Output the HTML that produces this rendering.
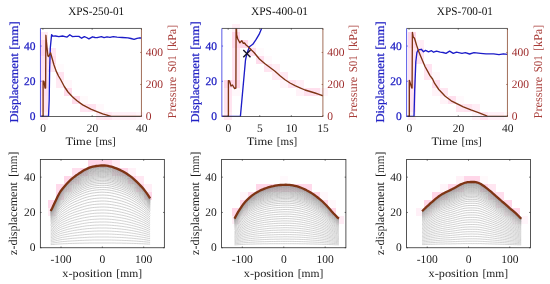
<!DOCTYPE html>
<html><head><meta charset="utf-8"><style>
html,body{margin:0;padding:0;background:#fff;}
svg{display:block;filter:blur(0.35px);}
text{font-family:"Liberation Serif", serif;text-rendering:geometricPrecision;}
</style></head><body>
<svg xmlns="http://www.w3.org/2000/svg" width="550" height="284" viewBox="0 0 550 284">
<rect width="550" height="284" fill="#fff"/>
<rect x="232" y="24" width="8" height="8" fill="rgb(255,239,246)"/>
<rect x="40" y="32" width="8" height="8" fill="rgb(255,236,244)"/>
<rect x="232" y="32" width="8" height="8" fill="rgb(255,215,233)"/>
<rect x="408" y="32" width="8" height="8" fill="rgb(255,215,233)"/>
<rect x="40" y="40" width="8" height="8" fill="rgb(255,215,233)"/>
<rect x="232" y="40" width="8" height="8" fill="rgb(255,218,234)"/>
<rect x="240" y="40" width="8" height="8" fill="rgb(255,215,233)"/>
<rect x="248" y="40" width="8" height="8" fill="rgb(255,248,251)"/>
<rect x="408" y="40" width="8" height="8" fill="rgb(255,217,234)"/>
<rect x="416" y="40" width="8" height="8" fill="rgb(255,238,246)"/>
<rect x="40" y="48" width="8" height="8" fill="rgb(255,215,233)"/>
<rect x="48" y="48" width="8" height="8" fill="rgb(255,230,242)"/>
<rect x="232" y="48" width="8" height="8" fill="rgb(255,228,240)"/>
<rect x="248" y="48" width="8" height="8" fill="rgb(255,222,237)"/>
<rect x="256" y="48" width="8" height="8" fill="rgb(255,250,252)"/>
<rect x="408" y="48" width="8" height="8" fill="rgb(255,228,240)"/>
<rect x="416" y="48" width="8" height="8" fill="rgb(255,227,240)"/>
<rect x="40" y="56" width="8" height="8" fill="rgb(255,227,240)"/>
<rect x="48" y="56" width="8" height="8" fill="rgb(255,223,237)"/>
<rect x="232" y="56" width="8" height="8" fill="rgb(255,228,240)"/>
<rect x="256" y="56" width="8" height="8" fill="rgb(255,221,237)"/>
<rect x="264" y="56" width="8" height="8" fill="rgb(255,249,252)"/>
<rect x="408" y="56" width="8" height="8" fill="rgb(255,228,240)"/>
<rect x="416" y="56" width="8" height="8" fill="rgb(255,228,240)"/>
<rect x="40" y="64" width="8" height="8" fill="rgb(255,228,240)"/>
<rect x="48" y="64" width="8" height="8" fill="rgb(255,232,242)"/>
<rect x="56" y="64" width="8" height="8" fill="rgb(255,250,252)"/>
<rect x="232" y="64" width="8" height="8" fill="rgb(255,228,240)"/>
<rect x="264" y="64" width="8" height="8" fill="rgb(255,228,240)"/>
<rect x="272" y="64" width="8" height="8" fill="rgb(255,239,246)"/>
<rect x="408" y="64" width="8" height="8" fill="rgb(255,228,240)"/>
<rect x="424" y="64" width="8" height="8" fill="rgb(255,227,240)"/>
<rect x="40" y="72" width="8" height="8" fill="rgb(255,229,240)"/>
<rect x="56" y="72" width="8" height="8" fill="rgb(255,226,239)"/>
<rect x="232" y="72" width="8" height="8" fill="rgb(255,228,240)"/>
<rect x="272" y="72" width="8" height="8" fill="rgb(255,236,245)"/>
<rect x="280" y="72" width="8" height="8" fill="rgb(255,233,243)"/>
<rect x="408" y="72" width="8" height="8" fill="rgb(255,228,240)"/>
<rect x="424" y="72" width="8" height="8" fill="rgb(255,230,241)"/>
<rect x="432" y="72" width="8" height="8" fill="rgb(255,248,251)"/>
<rect x="40" y="80" width="8" height="8" fill="rgb(255,215,233)"/>
<rect x="56" y="80" width="8" height="8" fill="rgb(255,234,243)"/>
<rect x="64" y="80" width="8" height="8" fill="rgb(255,246,250)"/>
<rect x="224" y="80" width="8" height="8" fill="rgb(255,215,233)"/>
<rect x="232" y="80" width="8" height="8" fill="rgb(255,215,233)"/>
<rect x="280" y="80" width="8" height="8" fill="rgb(255,245,250)"/>
<rect x="288" y="80" width="8" height="8" fill="rgb(255,226,239)"/>
<rect x="296" y="80" width="8" height="8" fill="rgb(255,239,246)"/>
<rect x="408" y="80" width="8" height="8" fill="rgb(255,215,233)"/>
<rect x="432" y="80" width="8" height="8" fill="rgb(255,223,238)"/>
<rect x="40" y="88" width="8" height="8" fill="rgb(255,225,239)"/>
<rect x="64" y="88" width="8" height="8" fill="rgb(255,219,235)"/>
<rect x="224" y="88" width="8" height="8" fill="rgb(255,228,240)"/>
<rect x="232" y="88" width="8" height="8" fill="rgb(255,248,251)"/>
<rect x="296" y="88" width="8" height="8" fill="rgb(255,242,248)"/>
<rect x="304" y="88" width="8" height="8" fill="rgb(255,224,238)"/>
<rect x="312" y="88" width="8" height="8" fill="rgb(255,224,238)"/>
<rect x="320" y="88" width="8" height="8" fill="rgb(255,245,250)"/>
<rect x="408" y="88" width="8" height="8" fill="rgb(255,226,239)"/>
<rect x="432" y="88" width="8" height="8" fill="rgb(255,243,248)"/>
<rect x="440" y="88" width="8" height="8" fill="rgb(255,230,241)"/>
<rect x="40" y="96" width="8" height="8" fill="rgb(255,228,240)"/>
<rect x="72" y="96" width="8" height="8" fill="rgb(255,221,236)"/>
<rect x="80" y="96" width="8" height="8" fill="rgb(255,249,251)"/>
<rect x="224" y="96" width="8" height="8" fill="rgb(255,228,240)"/>
<rect x="408" y="96" width="8" height="8" fill="rgb(255,228,240)"/>
<rect x="440" y="96" width="8" height="8" fill="rgb(255,243,248)"/>
<rect x="448" y="96" width="8" height="8" fill="rgb(255,224,238)"/>
<rect x="456" y="96" width="8" height="8" fill="rgb(255,249,252)"/>
<rect x="40" y="104" width="8" height="8" fill="rgb(255,228,240)"/>
<rect x="80" y="104" width="8" height="8" fill="rgb(255,229,241)"/>
<rect x="88" y="104" width="8" height="8" fill="rgb(255,226,239)"/>
<rect x="96" y="104" width="8" height="8" fill="rgb(255,248,251)"/>
<rect x="224" y="104" width="8" height="8" fill="rgb(255,228,240)"/>
<rect x="408" y="104" width="8" height="8" fill="rgb(255,228,240)"/>
<rect x="456" y="104" width="8" height="8" fill="rgb(255,230,241)"/>
<rect x="464" y="104" width="8" height="8" fill="rgb(255,227,239)"/>
<rect x="472" y="104" width="8" height="8" fill="rgb(255,238,246)"/>
<rect x="40" y="112" width="8" height="8" fill="rgb(255,237,245)"/>
<rect x="96" y="112" width="8" height="8" fill="rgb(255,234,243)"/>
<rect x="104" y="112" width="8" height="8" fill="rgb(255,231,242)"/>
<rect x="112" y="112" width="8" height="8" fill="rgb(255,240,247)"/>
<rect x="120" y="112" width="8" height="8" fill="rgb(255,240,247)"/>
<rect x="128" y="112" width="8" height="8" fill="rgb(255,240,247)"/>
<rect x="136" y="112" width="8" height="8" fill="rgb(255,245,250)"/>
<rect x="224" y="112" width="8" height="8" fill="rgb(255,233,243)"/>
<rect x="408" y="112" width="8" height="8" fill="rgb(255,239,246)"/>
<rect x="472" y="112" width="8" height="8" fill="rgb(255,244,249)"/>
<rect x="480" y="112" width="8" height="8" fill="rgb(255,228,240)"/>
<rect x="488" y="112" width="8" height="8" fill="rgb(255,240,247)"/>
<rect x="496" y="112" width="8" height="8" fill="rgb(255,240,247)"/>
<rect x="504" y="112" width="8" height="8" fill="rgb(255,249,252)"/>
<rect x="88" y="160" width="8" height="8" fill="rgb(255,215,233)"/>
<rect x="96" y="160" width="8" height="8" fill="rgb(255,215,233)"/>
<rect x="104" y="160" width="8" height="8" fill="rgb(255,215,233)"/>
<rect x="112" y="160" width="8" height="8" fill="rgb(255,235,244)"/>
<rect x="72" y="168" width="8" height="8" fill="rgb(255,223,238)"/>
<rect x="80" y="168" width="8" height="8" fill="rgb(255,215,233)"/>
<rect x="88" y="168" width="8" height="8" fill="rgb(255,247,251)"/>
<rect x="112" y="168" width="8" height="8" fill="rgb(255,224,238)"/>
<rect x="120" y="168" width="8" height="8" fill="rgb(255,215,233)"/>
<rect x="128" y="168" width="8" height="8" fill="rgb(255,241,247)"/>
<rect x="64" y="176" width="8" height="8" fill="rgb(255,215,233)"/>
<rect x="72" y="176" width="8" height="8" fill="rgb(255,231,242)"/>
<rect x="128" y="176" width="8" height="8" fill="rgb(255,215,233)"/>
<rect x="136" y="176" width="8" height="8" fill="rgb(255,231,242)"/>
<rect x="280" y="176" width="8" height="8" fill="rgb(255,249,252)"/>
<rect x="456" y="176" width="8" height="8" fill="rgb(255,241,247)"/>
<rect x="464" y="176" width="8" height="8" fill="rgb(255,215,233)"/>
<rect x="472" y="176" width="8" height="8" fill="rgb(255,215,233)"/>
<rect x="480" y="176" width="8" height="8" fill="rgb(255,249,251)"/>
<rect x="56" y="184" width="8" height="8" fill="rgb(255,218,235)"/>
<rect x="64" y="184" width="8" height="8" fill="rgb(255,233,243)"/>
<rect x="136" y="184" width="8" height="8" fill="rgb(255,215,233)"/>
<rect x="144" y="184" width="8" height="8" fill="rgb(255,238,246)"/>
<rect x="256" y="184" width="8" height="8" fill="rgb(255,215,233)"/>
<rect x="264" y="184" width="8" height="8" fill="rgb(255,215,233)"/>
<rect x="272" y="184" width="8" height="8" fill="rgb(255,215,233)"/>
<rect x="280" y="184" width="8" height="8" fill="rgb(255,215,233)"/>
<rect x="288" y="184" width="8" height="8" fill="rgb(255,215,233)"/>
<rect x="296" y="184" width="8" height="8" fill="rgb(255,215,233)"/>
<rect x="304" y="184" width="8" height="8" fill="rgb(255,218,235)"/>
<rect x="440" y="184" width="8" height="8" fill="rgb(255,244,249)"/>
<rect x="448" y="184" width="8" height="8" fill="rgb(255,215,233)"/>
<rect x="456" y="184" width="8" height="8" fill="rgb(255,218,235)"/>
<rect x="480" y="184" width="8" height="8" fill="rgb(255,215,233)"/>
<rect x="488" y="184" width="8" height="8" fill="rgb(255,230,241)"/>
<rect x="56" y="192" width="8" height="8" fill="rgb(255,215,233)"/>
<rect x="144" y="192" width="8" height="8" fill="rgb(255,215,233)"/>
<rect x="240" y="192" width="8" height="8" fill="rgb(255,246,250)"/>
<rect x="248" y="192" width="8" height="8" fill="rgb(255,215,233)"/>
<rect x="256" y="192" width="8" height="8" fill="rgb(255,245,249)"/>
<rect x="304" y="192" width="8" height="8" fill="rgb(255,240,247)"/>
<rect x="312" y="192" width="8" height="8" fill="rgb(255,215,233)"/>
<rect x="320" y="192" width="8" height="8" fill="rgb(255,248,251)"/>
<rect x="432" y="192" width="8" height="8" fill="rgb(255,215,233)"/>
<rect x="440" y="192" width="8" height="8" fill="rgb(255,215,233)"/>
<rect x="488" y="192" width="8" height="8" fill="rgb(255,220,236)"/>
<rect x="496" y="192" width="8" height="8" fill="rgb(255,222,237)"/>
<rect x="48" y="200" width="8" height="8" fill="rgb(255,215,233)"/>
<rect x="240" y="200" width="8" height="8" fill="rgb(255,215,233)"/>
<rect x="320" y="200" width="8" height="8" fill="rgb(255,215,233)"/>
<rect x="328" y="200" width="8" height="8" fill="rgb(255,248,251)"/>
<rect x="424" y="200" width="8" height="8" fill="rgb(255,215,233)"/>
<rect x="432" y="200" width="8" height="8" fill="rgb(255,238,245)"/>
<rect x="496" y="200" width="8" height="8" fill="rgb(255,228,240)"/>
<rect x="504" y="200" width="8" height="8" fill="rgb(255,215,233)"/>
<rect x="48" y="208" width="8" height="8" fill="rgb(255,236,244)"/>
<rect x="232" y="208" width="8" height="8" fill="rgb(255,215,233)"/>
<rect x="240" y="208" width="8" height="8" fill="rgb(255,247,251)"/>
<rect x="328" y="208" width="8" height="8" fill="rgb(255,215,233)"/>
<rect x="416" y="208" width="8" height="8" fill="rgb(255,240,247)"/>
<rect x="424" y="208" width="8" height="8" fill="rgb(255,244,249)"/>
<rect x="504" y="208" width="8" height="8" fill="rgb(255,237,245)"/>
<rect x="512" y="208" width="8" height="8" fill="rgb(255,215,233)"/>
<rect x="232" y="216" width="8" height="8" fill="rgb(255,238,246)"/>
<rect x="336" y="216" width="8" height="8" fill="rgb(255,236,245)"/>
<rect x="512" y="216" width="8" height="8" fill="rgb(255,243,249)"/>
<rect x="520" y="216" width="8" height="8" fill="rgb(255,245,250)"/>
<defs>
<clipPath id="ct0"><rect x="40.45" y="28.45" width="100.99999999999999" height="88.05"/></clipPath>
<clipPath id="ct1"><rect x="221.85" y="28.45" width="101.04999999999998" height="88.05"/></clipPath>
<clipPath id="ct2"><rect x="406.6" y="28.45" width="100.84999999999997" height="88.05"/></clipPath>
</defs>
<g clip-path="url(#ct0)" fill="none" stroke-linejoin="round">
<path d="M40.5,116.5 L48.5,116.5 L49.2,100.0 L49.6,70.0 L50.3,48.0 L51.6,34.6 L53.0,36.2 L55.5,36.0 L58.9,36.6 L62.5,36.0 L65.0,36.6 L67.1,37.1 L69.8,34.8 L72.5,36.6 L75.5,36.3 L78.9,36.4 L81.6,38.2 L84.4,36.6 L86.5,37.5 L88.9,38.9 L92.5,36.8 L95.0,37.5 L97.1,37.7 L101.4,36.6 L104.0,37.6 L107.0,36.8 L110.0,37.3 L113.2,36.6 L117.0,37.2 L122.3,37.5 L128.0,37.8 L131.0,38.5 L134.1,39.4 L137.0,38.3 L139.5,37.8 L141.4,38.0" stroke="#1c1cc8" stroke-width="1.35"/>
<path d="M40.5,116.5 L43.1,116.5 L43.1,81.0 L44.0,81.5 L45.0,88.0 L45.6,88.0 L45.9,35.3 L46.4,42.0 L47.9,56.0 L48.6,56.5 L50.6,52.9 L52.0,58.0 L54.0,65.0 L56.3,71.4 L58.5,76.0 L60.6,79.5 L64.3,86.5 L68.0,92.0 L72.4,96.7 L77.0,100.7 L82.7,104.9 L90.8,109.2 L96.3,111.3 L102.7,113.8 L107.0,115.2 L111.1,116.5 L141.4,116.5" stroke="#7e3414" stroke-width="1.35"/>
</g>
<path d="M40.45,28.45 H141.45 M40.45,116.5 H141.45" stroke="#2b2b2b" stroke-width="0.75" fill="none"/>
<path d="M40.45,28.45 V116.5" stroke="#3030e0" stroke-width="0.8" fill="none"/>
<path d="M141.45,28.45 V116.5" stroke="#8a4a30" stroke-width="0.8" fill="none"/>
<path d="M42.91,116.5 V115.3 M42.91,28.45 V29.65" stroke="#2b2b2b" stroke-width="0.75"/>
<text x="43.11" y="132.20" font-size="11.5" fill="#1a1a1a" text-anchor="middle" >0</text>
<path d="M92.18,116.5 V115.3 M92.18,28.45 V29.65" stroke="#2b2b2b" stroke-width="0.75"/>
<text x="92.38" y="132.20" font-size="11.5" fill="#1a1a1a" text-anchor="middle" >20</text>
<path d="M141.45,116.5 V115.3 M141.45,28.45 V29.65" stroke="#2b2b2b" stroke-width="0.75"/>
<text x="141.65" y="132.20" font-size="11.5" fill="#1a1a1a" text-anchor="middle" >40</text>
<path d="M40.45,116.50 H41.650000000000006" stroke="#3030e0" stroke-width="0.75"/>
<text x="35.55" y="120.20" font-size="11.5" fill="#2222c4" text-anchor="end" stroke="#2222c4" stroke-width="0.25">0</text>
<path d="M40.45,81.28 H41.650000000000006" stroke="#3030e0" stroke-width="0.75"/>
<text x="35.55" y="84.98" font-size="11.5" fill="#2222c4" text-anchor="end" stroke="#2222c4" stroke-width="0.25">20</text>
<path d="M40.45,46.06 H41.650000000000006" stroke="#3030e0" stroke-width="0.75"/>
<text x="35.55" y="49.76" font-size="11.5" fill="#2222c4" text-anchor="end" stroke="#2222c4" stroke-width="0.25">40</text>
<path d="M141.45,116.50 H140.25" stroke="#8a4a30" stroke-width="0.75"/>
<text x="145.85" y="120.20" font-size="11.5" fill="#9e2c2c" text-anchor="start" >0</text>
<path d="M141.45,84.48 H140.25" stroke="#8a4a30" stroke-width="0.75"/>
<text x="145.85" y="88.18" font-size="11.5" fill="#9e2c2c" text-anchor="start" >200</text>
<path d="M141.45,52.46 H140.25" stroke="#8a4a30" stroke-width="0.75"/>
<text x="145.85" y="56.16" font-size="11.5" fill="#9e2c2c" text-anchor="start" >400</text>
<text x="65.42" y="145.10" font-size="11.3" fill="#1a1a1a" textLength="26.07" lengthAdjust="spacingAndGlyphs">Time</text>
<text x="95.44" y="145.10" font-size="11.3" fill="#1a1a1a" textLength="20.32" lengthAdjust="spacingAndGlyphs">[ms]</text>
<text transform="translate(17.65,122.59) rotate(-90)" x="0" y="0" font-size="12" fill="#2222c4" textLength="69.30" lengthAdjust="spacingAndGlyphs" stroke="#2222c4" stroke-width="0.25">Displacement</text>
<text transform="translate(17.65,49.73) rotate(-90)" x="0" y="0" font-size="12" fill="#2222c4" textLength="28.40" lengthAdjust="spacingAndGlyphs" stroke="#2222c4" stroke-width="0.25">[mm]</text>
<text transform="translate(175.75,118.38) rotate(-90)" x="0" y="0" font-size="12" fill="#a83c38" textLength="41.60" lengthAdjust="spacingAndGlyphs" >Pressure</text>
<text transform="translate(175.75,72.28) rotate(-90)" x="0" y="0" font-size="12" fill="#a83c38" textLength="17.01" lengthAdjust="spacingAndGlyphs" >S01</text>
<text transform="translate(175.75,50.88) rotate(-90)" x="0" y="0" font-size="12" fill="#a83c38" textLength="26.05" lengthAdjust="spacingAndGlyphs" >[kPa]</text>
<text x="68.21" y="15.00" font-size="11.6" fill="#111111" textLength="55.95" lengthAdjust="spacingAndGlyphs">XPS-250-01</text>
<g clip-path="url(#ct1)" fill="none" stroke-linejoin="round">
<path d="M221.8,116.5 L240.4,116.5 L245.5,60.0 L246.8,54.0 L249.4,46.8 L252.8,44.3 L256.0,39.7 L259.1,34.4 L261.8,28.1 L262.5,26.0" stroke="#1c1cc8" stroke-width="1.35"/>
<path d="M221.8,116.5 L228.4,116.5 L228.4,80.6 L229.5,81.0 L231.0,86.0 L232.5,85.0 L234.5,88.5 L235.9,88.0 L236.1,20.0 L236.4,26.0 L236.7,35.0 L237.8,39.0 L239.8,42.8 L241.8,40.7 L243.3,43.3 L244.5,43.0 L246.3,45.2 L248.0,46.6 L251.7,50.3 L254.0,52.5 L256.5,55.5 L259.4,59.0 L265.0,63.8 L270.0,67.5 L275.0,71.3 L280.0,75.8 L285.0,79.8 L290.0,83.0 L295.0,85.6 L300.0,87.8 L305.0,90.0 L310.0,91.5 L315.0,93.0 L319.0,94.4 L322.9,95.8" stroke="#7e3414" stroke-width="1.35"/>
</g>
<path d="M243.3,50.0 L250.5,57.2 M243.3,57.2 L250.5,50.0" stroke="#15152a" stroke-width="1.4" fill="none"/>
<path d="M221.85,28.45 H322.9 M221.85,116.5 H322.9" stroke="#2b2b2b" stroke-width="0.75" fill="none"/>
<path d="M221.85,28.45 V116.5" stroke="#3030e0" stroke-width="0.8" fill="none"/>
<path d="M322.9,28.45 V116.5" stroke="#8a4a30" stroke-width="0.8" fill="none"/>
<path d="M228.17,116.5 V115.3 M228.17,28.45 V29.65" stroke="#2b2b2b" stroke-width="0.75"/>
<text x="228.37" y="132.20" font-size="11.5" fill="#1a1a1a" text-anchor="middle" >0</text>
<path d="M259.74,116.5 V115.3 M259.74,28.45 V29.65" stroke="#2b2b2b" stroke-width="0.75"/>
<text x="259.94" y="132.20" font-size="11.5" fill="#1a1a1a" text-anchor="middle" >5</text>
<path d="M291.32,116.5 V115.3 M291.32,28.45 V29.65" stroke="#2b2b2b" stroke-width="0.75"/>
<text x="291.52" y="132.20" font-size="11.5" fill="#1a1a1a" text-anchor="middle" >10</text>
<path d="M322.90,116.5 V115.3 M322.90,28.45 V29.65" stroke="#2b2b2b" stroke-width="0.75"/>
<text x="323.10" y="132.20" font-size="11.5" fill="#1a1a1a" text-anchor="middle" >15</text>
<path d="M221.85,116.50 H223.04999999999998" stroke="#3030e0" stroke-width="0.75"/>
<text x="216.95" y="120.20" font-size="11.5" fill="#2222c4" text-anchor="end" stroke="#2222c4" stroke-width="0.25">0</text>
<path d="M221.85,81.28 H223.04999999999998" stroke="#3030e0" stroke-width="0.75"/>
<text x="216.95" y="84.98" font-size="11.5" fill="#2222c4" text-anchor="end" stroke="#2222c4" stroke-width="0.25">20</text>
<path d="M221.85,46.06 H223.04999999999998" stroke="#3030e0" stroke-width="0.75"/>
<text x="216.95" y="49.76" font-size="11.5" fill="#2222c4" text-anchor="end" stroke="#2222c4" stroke-width="0.25">40</text>
<path d="M322.9,116.50 H321.7" stroke="#8a4a30" stroke-width="0.75"/>
<text x="327.30" y="120.20" font-size="11.5" fill="#9e2c2c" text-anchor="start" >0</text>
<path d="M322.9,84.48 H321.7" stroke="#8a4a30" stroke-width="0.75"/>
<text x="327.30" y="88.18" font-size="11.5" fill="#9e2c2c" text-anchor="start" >200</text>
<path d="M322.9,52.46 H321.7" stroke="#8a4a30" stroke-width="0.75"/>
<text x="327.30" y="56.16" font-size="11.5" fill="#9e2c2c" text-anchor="start" >400</text>
<text x="246.85" y="145.10" font-size="11.3" fill="#1a1a1a" textLength="26.07" lengthAdjust="spacingAndGlyphs">Time</text>
<text x="276.86" y="145.10" font-size="11.3" fill="#1a1a1a" textLength="20.32" lengthAdjust="spacingAndGlyphs">[ms]</text>
<text transform="translate(199.05,122.59) rotate(-90)" x="0" y="0" font-size="12" fill="#2222c4" textLength="69.30" lengthAdjust="spacingAndGlyphs" stroke="#2222c4" stroke-width="0.25">Displacement</text>
<text transform="translate(199.05,49.73) rotate(-90)" x="0" y="0" font-size="12" fill="#2222c4" textLength="28.40" lengthAdjust="spacingAndGlyphs" stroke="#2222c4" stroke-width="0.25">[mm]</text>
<text transform="translate(357.20,118.38) rotate(-90)" x="0" y="0" font-size="12" fill="#a83c38" textLength="41.60" lengthAdjust="spacingAndGlyphs" >Pressure</text>
<text transform="translate(357.20,72.28) rotate(-90)" x="0" y="0" font-size="12" fill="#a83c38" textLength="17.01" lengthAdjust="spacingAndGlyphs" >S01</text>
<text transform="translate(357.20,50.88) rotate(-90)" x="0" y="0" font-size="12" fill="#a83c38" textLength="26.05" lengthAdjust="spacingAndGlyphs" >[kPa]</text>
<text x="251.00" y="15.10" font-size="11.6" fill="#111111" textLength="57.06" lengthAdjust="spacingAndGlyphs">XPS-400-01</text>
<g clip-path="url(#ct2)" fill="none" stroke-linejoin="round">
<path d="M406.6,116.5 L414.0,116.5 L414.7,90.0 L415.3,75.0 L415.8,62.0 L416.9,52.5 L418.0,50.4 L419.5,49.6 L421.3,49.3 L423.5,51.8 L425.6,50.4 L428.5,51.8 L431.5,50.7 L433.6,52.2 L436.5,51.1 L440.2,52.2 L443.1,52.5 L446.0,53.3 L449.6,51.1 L453.3,53.3 L456.5,52.2 L462.0,53.3 L465.3,52.7 L469.6,54.0 L474.0,52.7 L480.5,53.3 L486.0,53.8 L493.6,53.8 L499.0,54.6 L503.4,53.8 L507.4,54.4" stroke="#1c1cc8" stroke-width="1.35"/>
<path d="M406.6,116.5 L409.3,116.5 L409.3,80.3 L411.8,88.0 L412.1,88.0 L412.4,32.4 L413.2,37.0 L414.5,38.2 L416.6,45.3 L419.1,52.6 L422.8,61.3 L425.0,66.5 L427.7,71.3 L430.0,75.6 L432.6,79.0 L434.5,83.2 L438.8,89.5 L445.2,96.2 L451.2,100.8 L457.3,103.8 L463.3,106.8 L470.9,109.8 L478.5,112.6 L486.1,115.6 L487.6,116.5 L507.4,116.5" stroke="#7e3414" stroke-width="1.35"/>
</g>
<path d="M406.6,28.45 H507.45 M406.6,116.5 H507.45" stroke="#2b2b2b" stroke-width="0.75" fill="none"/>
<path d="M406.6,28.45 V116.5" stroke="#3030e0" stroke-width="0.8" fill="none"/>
<path d="M507.45,28.45 V116.5" stroke="#8a4a30" stroke-width="0.8" fill="none"/>
<path d="M409.06,116.5 V115.3 M409.06,28.45 V29.65" stroke="#2b2b2b" stroke-width="0.75"/>
<text x="409.26" y="132.20" font-size="11.5" fill="#1a1a1a" text-anchor="middle" >0</text>
<path d="M458.25,116.5 V115.3 M458.25,28.45 V29.65" stroke="#2b2b2b" stroke-width="0.75"/>
<text x="458.45" y="132.20" font-size="11.5" fill="#1a1a1a" text-anchor="middle" >20</text>
<path d="M507.45,116.5 V115.3 M507.45,28.45 V29.65" stroke="#2b2b2b" stroke-width="0.75"/>
<text x="507.65" y="132.20" font-size="11.5" fill="#1a1a1a" text-anchor="middle" >40</text>
<path d="M406.6,116.50 H407.8" stroke="#3030e0" stroke-width="0.75"/>
<text x="401.70" y="120.20" font-size="11.5" fill="#2222c4" text-anchor="end" stroke="#2222c4" stroke-width="0.25">0</text>
<path d="M406.6,81.28 H407.8" stroke="#3030e0" stroke-width="0.75"/>
<text x="401.70" y="84.98" font-size="11.5" fill="#2222c4" text-anchor="end" stroke="#2222c4" stroke-width="0.25">20</text>
<path d="M406.6,46.06 H407.8" stroke="#3030e0" stroke-width="0.75"/>
<text x="401.70" y="49.76" font-size="11.5" fill="#2222c4" text-anchor="end" stroke="#2222c4" stroke-width="0.25">40</text>
<path d="M507.45,116.50 H506.25" stroke="#8a4a30" stroke-width="0.75"/>
<text x="511.85" y="120.20" font-size="11.5" fill="#9e2c2c" text-anchor="start" >0</text>
<path d="M507.45,84.48 H506.25" stroke="#8a4a30" stroke-width="0.75"/>
<text x="511.85" y="88.18" font-size="11.5" fill="#9e2c2c" text-anchor="start" >200</text>
<path d="M507.45,52.46 H506.25" stroke="#8a4a30" stroke-width="0.75"/>
<text x="511.85" y="56.16" font-size="11.5" fill="#9e2c2c" text-anchor="start" >400</text>
<text x="431.50" y="145.10" font-size="11.3" fill="#1a1a1a" textLength="26.07" lengthAdjust="spacingAndGlyphs">Time</text>
<text x="461.51" y="145.10" font-size="11.3" fill="#1a1a1a" textLength="20.32" lengthAdjust="spacingAndGlyphs">[ms]</text>
<text transform="translate(383.80,122.59) rotate(-90)" x="0" y="0" font-size="12" fill="#2222c4" textLength="69.30" lengthAdjust="spacingAndGlyphs" stroke="#2222c4" stroke-width="0.25">Displacement</text>
<text transform="translate(383.80,49.73) rotate(-90)" x="0" y="0" font-size="12" fill="#2222c4" textLength="28.40" lengthAdjust="spacingAndGlyphs" stroke="#2222c4" stroke-width="0.25">[mm]</text>
<text transform="translate(541.75,118.38) rotate(-90)" x="0" y="0" font-size="12" fill="#a83c38" textLength="41.60" lengthAdjust="spacingAndGlyphs" >Pressure</text>
<text transform="translate(541.75,72.28) rotate(-90)" x="0" y="0" font-size="12" fill="#a83c38" textLength="17.01" lengthAdjust="spacingAndGlyphs" >S01</text>
<text transform="translate(541.75,50.88) rotate(-90)" x="0" y="0" font-size="12" fill="#a83c38" textLength="26.05" lengthAdjust="spacingAndGlyphs" >[kPa]</text>
<text x="436.81" y="15.20" font-size="11.6" fill="#111111" textLength="56.15" lengthAdjust="spacingAndGlyphs">XPS-700-01</text>
<g fill="none" stroke-width="0.7">
<path d="M50.7,244.6 L52.4,244.5 L54.1,244.4 L55.8,244.2 L57.4,244.1 L59.1,244.0 L60.8,243.9 L62.5,243.8 L64.2,243.7 L65.9,243.7 L67.5,243.6 L69.2,243.5 L70.9,243.5 L72.6,243.4 L74.3,243.4 L76.0,243.3 L77.7,243.3 L79.3,243.2 L81.0,243.2 L82.7,243.2 L84.4,243.1 L86.1,243.1 L87.8,243.1 L89.4,243.0 L91.1,243.0 L92.8,243.0 L94.5,243.0 L96.2,243.0 L97.9,243.0 L99.6,243.0 L101.2,243.0 L102.9,243.0 L104.6,243.0 L106.3,243.0 L108.0,243.0 L109.7,243.0 L111.4,243.0 L113.0,243.0 L114.7,243.0 L116.4,243.1 L118.1,243.1 L119.8,243.1 L121.5,243.1 L123.1,243.2 L124.8,243.2 L126.5,243.2 L128.2,243.3 L129.9,243.3 L131.6,243.4 L133.3,243.4 L134.9,243.5 L136.6,243.5 L138.3,243.6 L140.0,243.7 L141.7,243.7 L143.4,243.8 L145.0,243.9 L146.7,244.0 L148.4,244.1 L150.1,244.1" stroke="rgb(192,192,192)"/>
<path d="M50.7,243.3 L52.4,243.0 L54.1,242.8 L55.8,242.5 L57.4,242.3 L59.1,242.0 L60.8,241.8 L62.5,241.6 L64.2,241.5 L65.9,241.4 L67.5,241.2 L69.2,241.1 L70.9,241.0 L72.6,240.9 L74.3,240.8 L76.0,240.7 L77.7,240.6 L79.3,240.5 L81.0,240.4 L82.7,240.4 L84.4,240.3 L86.1,240.2 L87.8,240.2 L89.4,240.1 L91.1,240.1 L92.8,240.0 L94.5,240.0 L96.2,240.0 L97.9,240.0 L99.6,240.0 L101.2,240.0 L102.9,240.0 L104.6,240.0 L106.3,240.0 L108.0,240.0 L109.7,240.0 L111.4,240.0 L113.0,240.1 L114.7,240.1 L116.4,240.2 L118.1,240.2 L119.8,240.3 L121.5,240.3 L123.1,240.4 L124.8,240.5 L126.5,240.5 L128.2,240.6 L129.9,240.7 L131.6,240.8 L133.3,240.9 L134.9,241.0 L136.6,241.1 L138.3,241.3 L140.0,241.4 L141.7,241.5 L143.4,241.7 L145.0,241.8 L146.7,242.0 L148.4,242.2 L150.1,242.3" stroke="rgb(192,192,192)"/>
<path d="M50.7,241.9 L52.4,241.6 L54.1,241.2 L55.8,240.8 L57.4,240.4 L59.1,240.0 L60.8,239.7 L62.5,239.5 L64.2,239.3 L65.9,239.1 L67.5,238.9 L69.2,238.7 L70.9,238.5 L72.6,238.3 L74.3,238.2 L76.0,238.1 L77.7,237.9 L79.3,237.8 L81.0,237.7 L82.7,237.6 L84.4,237.5 L86.1,237.4 L87.8,237.3 L89.4,237.2 L91.1,237.2 L92.8,237.1 L94.5,237.1 L96.2,237.0 L97.9,237.0 L99.6,237.0 L101.2,237.0 L102.9,237.0 L104.6,237.0 L106.3,237.0 L108.0,237.0 L109.7,237.1 L111.4,237.1 L113.0,237.2 L114.7,237.2 L116.4,237.3 L118.1,237.4 L119.8,237.4 L121.5,237.5 L123.1,237.6 L124.8,237.7 L126.5,237.8 L128.2,238.0 L129.9,238.1 L131.6,238.2 L133.3,238.4 L134.9,238.6 L136.6,238.7 L138.3,238.9 L140.0,239.1 L141.7,239.3 L143.4,239.5 L145.0,239.7 L146.7,240.0 L148.4,240.3 L150.1,240.5" stroke="rgb(192,192,192)"/>
<path d="M50.7,240.6 L52.4,240.1 L54.1,239.6 L55.8,239.1 L57.4,238.6 L59.1,238.1 L60.8,237.7 L62.5,237.3 L64.2,237.1 L65.9,236.8 L67.5,236.5 L69.2,236.3 L70.9,236.0 L72.6,235.8 L74.3,235.6 L76.0,235.4 L77.7,235.3 L79.3,235.1 L81.0,234.9 L82.7,234.8 L84.4,234.6 L86.1,234.5 L87.8,234.4 L89.4,234.3 L91.1,234.2 L92.8,234.1 L94.5,234.1 L96.2,234.0 L97.9,234.0 L99.6,234.0 L101.2,234.0 L102.9,234.0 L104.6,234.0 L106.3,234.0 L108.0,234.0 L109.7,234.1 L111.4,234.1 L113.0,234.2 L114.7,234.3 L116.4,234.4 L118.1,234.5 L119.8,234.6 L121.5,234.7 L123.1,234.8 L124.8,235.0 L126.5,235.1 L128.2,235.3 L129.9,235.5 L131.6,235.7 L133.3,235.9 L134.9,236.1 L136.6,236.3 L138.3,236.6 L140.0,236.8 L141.7,237.1 L143.4,237.4 L145.0,237.7 L146.7,238.0 L148.4,238.4 L150.1,238.7" stroke="rgb(192,192,192)"/>
<path d="M50.7,239.3 L52.4,238.7 L54.1,238.0 L55.8,237.3 L57.4,236.7 L59.1,236.1 L60.8,235.6 L62.5,235.2 L64.2,234.8 L65.9,234.5 L67.5,234.2 L69.2,233.8 L70.9,233.5 L72.6,233.3 L74.3,233.0 L76.0,232.8 L77.7,232.6 L79.3,232.4 L81.0,232.2 L82.7,232.0 L84.4,231.8 L86.1,231.7 L87.8,231.5 L89.4,231.4 L91.1,231.3 L92.8,231.2 L94.5,231.1 L96.2,231.1 L97.9,231.0 L99.6,231.0 L101.2,231.0 L102.9,231.0 L104.6,231.0 L106.3,231.0 L108.0,231.1 L109.7,231.1 L111.4,231.2 L113.0,231.3 L114.7,231.4 L116.4,231.5 L118.1,231.6 L119.8,231.8 L121.5,231.9 L123.1,232.1 L124.8,232.2 L126.5,232.4 L128.2,232.6 L129.9,232.9 L131.6,233.1 L133.3,233.4 L134.9,233.6 L136.6,233.9 L138.3,234.2 L140.0,234.5 L141.7,234.9 L143.4,235.2 L145.0,235.6 L146.7,236.0 L148.4,236.5 L150.1,236.9" stroke="rgb(192,192,192)"/>
<path d="M50.7,237.9 L52.4,237.2 L54.1,236.4 L55.8,235.6 L57.4,234.9 L59.1,234.1 L60.8,233.5 L62.5,233.0 L64.2,232.6 L65.9,232.2 L67.5,231.8 L69.2,231.4 L70.9,231.1 L72.6,230.7 L74.3,230.4 L76.0,230.2 L77.7,229.9 L79.3,229.7 L81.0,229.4 L82.7,229.2 L84.4,229.0 L86.1,228.8 L87.8,228.6 L89.4,228.5 L91.1,228.4 L92.8,228.2 L94.5,228.2 L96.2,228.1 L97.9,228.0 L99.6,228.0 L101.2,228.0 L102.9,228.0 L104.6,228.0 L106.3,228.0 L108.0,228.1 L109.7,228.2 L111.4,228.2 L113.0,228.4 L114.7,228.5 L116.4,228.6 L118.1,228.8 L119.8,228.9 L121.5,229.1 L123.1,229.3 L124.8,229.5 L126.5,229.7 L128.2,230.0 L129.9,230.3 L131.6,230.5 L133.3,230.8 L134.9,231.2 L136.6,231.5 L138.3,231.9 L140.0,232.3 L141.7,232.7 L143.4,233.1 L145.0,233.5 L146.7,234.0 L148.4,234.6 L150.1,235.1" stroke="rgb(191,191,191)"/>
<path d="M50.7,236.6 L52.4,235.7 L54.1,234.8 L55.8,233.9 L57.4,233.0 L59.1,232.2 L60.8,231.5 L62.5,230.9 L64.2,230.4 L65.9,229.9 L67.5,229.4 L69.2,229.0 L70.9,228.6 L72.6,228.2 L74.3,227.9 L76.0,227.5 L77.7,227.3 L79.3,227.0 L81.0,226.7 L82.7,226.4 L84.4,226.2 L86.1,225.9 L87.8,225.7 L89.4,225.6 L91.1,225.4 L92.8,225.3 L94.5,225.2 L96.2,225.1 L97.9,225.1 L99.6,225.0 L101.2,225.0 L102.9,225.0 L104.6,225.0 L106.3,225.0 L108.0,225.1 L109.7,225.2 L111.4,225.3 L113.0,225.4 L114.7,225.6 L116.4,225.7 L118.1,225.9 L119.8,226.1 L121.5,226.3 L123.1,226.5 L124.8,226.8 L126.5,227.0 L128.2,227.3 L129.9,227.6 L131.6,228.0 L133.3,228.3 L134.9,228.7 L136.6,229.1 L138.3,229.5 L140.0,230.0 L141.7,230.4 L143.4,230.9 L145.0,231.5 L146.7,232.0 L148.4,232.7 L150.1,233.3" stroke="rgb(191,191,191)"/>
<path d="M50.7,235.2 L52.4,234.3 L54.1,233.2 L55.8,232.2 L57.4,231.2 L59.1,230.2 L60.8,229.4 L62.5,228.7 L64.2,228.2 L65.9,227.6 L67.5,227.1 L69.2,226.6 L70.9,226.1 L72.6,225.7 L74.3,225.3 L76.0,224.9 L77.7,224.6 L79.3,224.3 L81.0,223.9 L82.7,223.6 L84.4,223.3 L86.1,223.1 L87.8,222.8 L89.4,222.6 L91.1,222.5 L92.8,222.3 L94.5,222.2 L96.2,222.1 L97.9,222.1 L99.6,222.0 L101.2,222.0 L102.9,222.0 L104.6,222.0 L106.3,222.0 L108.0,222.1 L109.7,222.2 L111.4,222.3 L113.0,222.5 L114.7,222.7 L116.4,222.8 L118.1,223.0 L119.8,223.3 L121.5,223.5 L123.1,223.7 L124.8,224.0 L126.5,224.3 L128.2,224.7 L129.9,225.0 L131.6,225.4 L133.3,225.8 L134.9,226.2 L136.6,226.7 L138.3,227.2 L140.0,227.7 L141.7,228.2 L143.4,228.8 L145.0,229.4 L146.7,230.0 L148.4,230.8 L150.1,231.5" stroke="rgb(191,191,191)"/>
<path d="M50.7,233.9 L52.4,232.8 L54.1,231.7 L55.8,230.5 L57.4,229.3 L59.1,228.2 L60.8,227.3 L62.5,226.6 L64.2,225.9 L65.9,225.3 L67.5,224.7 L69.2,224.1 L70.9,223.6 L72.6,223.1 L74.3,222.7 L76.0,222.3 L77.7,221.9 L79.3,221.5 L81.0,221.2 L82.7,220.8 L84.4,220.5 L86.1,220.2 L87.8,220.0 L89.4,219.7 L91.1,219.6 L92.8,219.4 L94.5,219.3 L96.2,219.2 L97.9,219.1 L99.6,219.0 L101.2,219.0 L102.9,219.0 L104.6,219.0 L106.3,219.1 L108.0,219.1 L109.7,219.3 L111.4,219.4 L113.0,219.6 L114.7,219.7 L116.4,220.0 L118.1,220.2 L119.8,220.4 L121.5,220.7 L123.1,221.0 L124.8,221.3 L126.5,221.6 L128.2,222.0 L129.9,222.4 L131.6,222.8 L133.3,223.3 L134.9,223.8 L136.6,224.3 L138.3,224.8 L140.0,225.4 L141.7,226.0 L143.4,226.6 L145.0,227.3 L146.7,228.1 L148.4,228.9 L150.1,229.7" stroke="rgb(190,190,190)"/>
<path d="M50.7,232.6 L52.4,231.4 L54.1,230.1 L55.8,228.7 L57.4,227.5 L59.1,226.3 L60.8,225.3 L62.5,224.4 L64.2,223.7 L65.9,223.0 L67.5,222.4 L69.2,221.7 L70.9,221.1 L72.6,220.6 L74.3,220.1 L76.0,219.7 L77.7,219.2 L79.3,218.8 L81.0,218.4 L82.7,218.0 L84.4,217.7 L86.1,217.4 L87.8,217.1 L89.4,216.8 L91.1,216.6 L92.8,216.4 L94.5,216.3 L96.2,216.2 L97.9,216.1 L99.6,216.0 L101.2,216.0 L102.9,216.0 L104.6,216.0 L106.3,216.1 L108.0,216.2 L109.7,216.3 L111.4,216.4 L113.0,216.6 L114.7,216.8 L116.4,217.1 L118.1,217.3 L119.8,217.6 L121.5,217.9 L123.1,218.2 L124.8,218.5 L126.5,218.9 L128.2,219.3 L129.9,219.8 L131.6,220.3 L133.3,220.8 L134.9,221.3 L136.6,221.9 L138.3,222.5 L140.0,223.1 L141.7,223.8 L143.4,224.5 L145.0,225.2 L146.7,226.1 L148.4,227.0 L150.1,227.9" stroke="rgb(190,190,190)"/>
<path d="M50.7,231.2 L52.4,229.9 L54.1,228.5 L55.8,227.0 L57.4,225.6 L59.1,224.3 L60.8,223.2 L62.5,222.3 L64.2,221.5 L65.9,220.7 L67.5,220.0 L69.2,219.3 L70.9,218.6 L72.6,218.1 L74.3,217.5 L76.0,217.0 L77.7,216.6 L79.3,216.1 L81.0,215.7 L82.7,215.3 L84.4,214.9 L86.1,214.5 L87.8,214.2 L89.4,213.9 L91.1,213.7 L92.8,213.5 L94.5,213.3 L96.2,213.2 L97.9,213.1 L99.6,213.1 L101.2,213.0 L102.9,213.0 L104.6,213.0 L106.3,213.1 L108.0,213.2 L109.7,213.3 L111.4,213.5 L113.0,213.7 L114.7,213.9 L116.4,214.2 L118.1,214.5 L119.8,214.8 L121.5,215.1 L123.1,215.4 L124.8,215.8 L126.5,216.2 L128.2,216.7 L129.9,217.2 L131.6,217.7 L133.3,218.3 L134.9,218.9 L136.6,219.5 L138.3,220.2 L140.0,220.8 L141.7,221.6 L143.4,222.3 L145.0,223.2 L146.7,224.1 L148.4,225.1 L150.1,226.1" stroke="rgb(189,189,189)"/>
<path d="M50.7,229.9 L52.4,228.5 L54.1,226.9 L55.8,225.3 L57.4,223.8 L59.1,222.3 L60.8,221.1 L62.5,220.1 L64.2,219.3 L65.9,218.4 L67.5,217.6 L69.2,216.9 L70.9,216.2 L72.6,215.5 L74.3,214.9 L76.0,214.4 L77.7,213.9 L79.3,213.4 L81.0,212.9 L82.7,212.5 L84.4,212.0 L86.1,211.6 L87.8,211.3 L89.4,211.0 L91.1,210.8 L92.8,210.5 L94.5,210.4 L96.2,210.2 L97.9,210.1 L99.6,210.1 L101.2,210.0 L102.9,210.0 L104.6,210.0 L106.3,210.1 L108.0,210.2 L109.7,210.4 L111.4,210.5 L113.0,210.8 L114.7,211.0 L116.4,211.3 L118.1,211.6 L119.8,211.9 L121.5,212.3 L123.1,212.6 L124.8,213.1 L126.5,213.5 L128.2,214.0 L129.9,214.6 L131.6,215.1 L133.3,215.7 L134.9,216.4 L136.6,217.1 L138.3,217.8 L140.0,218.6 L141.7,219.4 L143.4,220.2 L145.0,221.1 L146.7,222.1 L148.4,223.2 L150.1,224.3" stroke="rgb(188,188,188)"/>
<path d="M50.7,228.6 L52.4,227.0 L54.1,225.3 L55.8,223.6 L57.4,221.9 L59.1,220.4 L60.8,219.1 L62.5,218.0 L64.2,217.0 L65.9,216.2 L67.5,215.3 L69.2,214.4 L70.9,213.7 L72.6,213.0 L74.3,212.3 L76.0,211.8 L77.7,211.2 L79.3,210.7 L81.0,210.2 L82.7,209.7 L84.4,209.2 L86.1,208.8 L87.8,208.4 L89.4,208.1 L91.1,207.8 L92.8,207.6 L94.5,207.4 L96.2,207.3 L97.9,207.2 L99.6,207.1 L101.2,207.0 L102.9,207.0 L104.6,207.0 L106.3,207.1 L108.0,207.2 L109.7,207.4 L111.4,207.6 L113.0,207.8 L114.7,208.1 L116.4,208.4 L118.1,208.7 L119.8,209.1 L121.5,209.5 L123.1,209.9 L124.8,210.3 L126.5,210.8 L128.2,211.4 L129.9,211.9 L131.6,212.6 L133.3,213.2 L134.9,213.9 L136.6,214.7 L138.3,215.5 L140.0,216.3 L141.7,217.1 L143.4,218.1 L145.0,219.0 L146.7,220.1 L148.4,221.3 L150.1,222.5" stroke="rgb(188,188,188)"/>
<path d="M50.7,227.2 L52.4,225.5 L54.1,223.7 L55.8,221.9 L57.4,220.1 L59.1,218.4 L60.8,217.0 L62.5,215.8 L64.2,214.8 L65.9,213.9 L67.5,212.9 L69.2,212.0 L70.9,211.2 L72.6,210.4 L74.3,209.8 L76.0,209.1 L77.7,208.6 L79.3,208.0 L81.0,207.4 L82.7,206.9 L84.4,206.4 L86.1,205.9 L87.8,205.5 L89.4,205.2 L91.1,204.9 L92.8,204.6 L94.5,204.5 L96.2,204.3 L97.9,204.2 L99.6,204.1 L101.2,204.0 L102.9,204.0 L104.6,204.0 L106.3,204.1 L108.0,204.2 L109.7,204.4 L111.4,204.6 L113.0,204.9 L114.7,205.2 L116.4,205.5 L118.1,205.9 L119.8,206.2 L121.5,206.7 L123.1,207.1 L124.8,207.6 L126.5,208.1 L128.2,208.7 L129.9,209.3 L131.6,210.0 L133.3,210.7 L134.9,211.5 L136.6,212.3 L138.3,213.1 L140.0,214.0 L141.7,214.9 L143.4,215.9 L145.0,217.0 L146.7,218.1 L148.4,219.4 L150.1,220.7" stroke="rgb(187,187,187)"/>
<path d="M50.7,225.9 L52.4,224.1 L54.1,222.1 L55.8,220.1 L57.4,218.2 L59.1,216.4 L60.8,214.9 L62.5,213.7 L64.2,212.6 L65.9,211.6 L67.5,210.6 L69.2,209.6 L70.9,208.7 L72.6,207.9 L74.3,207.2 L76.0,206.5 L77.7,205.9 L79.3,205.3 L81.0,204.7 L82.7,204.1 L84.4,203.6 L86.1,203.1 L87.8,202.6 L89.4,202.3 L91.1,202.0 L92.8,201.7 L94.5,201.5 L96.2,201.3 L97.9,201.2 L99.6,201.1 L101.2,201.0 L102.9,201.0 L104.6,201.0 L106.3,201.1 L108.0,201.3 L109.7,201.5 L111.4,201.7 L113.0,202.0 L114.7,202.3 L116.4,202.6 L118.1,203.0 L119.8,203.4 L121.5,203.8 L123.1,204.3 L124.8,204.8 L126.5,205.4 L128.2,206.0 L129.9,206.7 L131.6,207.4 L133.3,208.2 L134.9,209.0 L136.6,209.9 L138.3,210.8 L140.0,211.7 L141.7,212.7 L143.4,213.8 L145.0,214.9 L146.7,216.1 L148.4,217.5 L150.1,218.9" stroke="rgb(186,186,186)"/>
<path d="M50.7,224.5 L52.4,222.6 L54.1,220.5 L55.8,218.4 L57.4,216.4 L59.1,214.5 L60.8,212.9 L62.5,211.5 L64.2,210.4 L65.9,209.3 L67.5,208.2 L69.2,207.2 L70.9,206.2 L72.6,205.4 L74.3,204.6 L76.0,203.9 L77.7,203.2 L79.3,202.6 L81.0,201.9 L82.7,201.3 L84.4,200.7 L86.1,200.2 L87.8,199.7 L89.4,199.3 L91.1,199.0 L92.8,198.7 L94.5,198.5 L96.2,198.3 L97.9,198.2 L99.6,198.1 L101.2,198.0 L102.9,198.0 L104.6,198.1 L106.3,198.1 L108.0,198.3 L109.7,198.5 L111.4,198.7 L113.0,199.0 L114.7,199.4 L116.4,199.7 L118.1,200.1 L119.8,200.6 L121.5,201.0 L123.1,201.5 L124.8,202.1 L126.5,202.7 L128.2,203.4 L129.9,204.1 L131.6,204.9 L133.3,205.7 L134.9,206.5 L136.6,207.5 L138.3,208.4 L140.0,209.4 L141.7,210.5 L143.4,211.6 L145.0,212.8 L146.7,214.1 L148.4,215.6 L150.1,217.1" stroke="rgb(185,185,185)"/>
<path d="M50.7,223.2 L52.4,221.2 L54.1,219.0 L55.8,216.7 L57.4,214.5 L59.1,212.5 L60.8,210.8 L62.5,209.4 L64.2,208.2 L65.9,207.0 L67.5,205.9 L69.2,204.8 L70.9,203.8 L72.6,202.9 L74.3,202.0 L76.0,201.3 L77.7,200.6 L79.3,199.9 L81.0,199.2 L82.7,198.5 L84.4,197.9 L86.1,197.4 L87.8,196.9 L89.4,196.5 L91.1,196.1 L92.8,195.8 L94.5,195.6 L96.2,195.4 L97.9,195.2 L99.6,195.1 L101.2,195.1 L102.9,195.0 L104.6,195.1 L106.3,195.2 L108.0,195.3 L109.7,195.5 L111.4,195.8 L113.0,196.1 L114.7,196.5 L116.4,196.9 L118.1,197.3 L119.8,197.8 L121.5,198.3 L123.1,198.8 L124.8,199.4 L126.5,200.0 L128.2,200.7 L129.9,201.5 L131.6,202.3 L133.3,203.2 L134.9,204.1 L136.6,205.1 L138.3,206.1 L140.0,207.2 L141.7,208.3 L143.4,209.5 L145.0,210.8 L146.7,212.2 L148.4,213.7 L150.1,215.4" stroke="rgb(184,184,184)"/>
<path d="M50.7,222.0 L52.4,219.8 L54.1,217.5 L55.8,215.1 L57.4,212.8 L59.1,210.7 L60.8,208.9 L62.5,207.4 L64.2,206.1 L65.9,204.8 L67.5,203.6 L69.2,202.5 L70.9,201.4 L72.6,200.5 L74.3,199.6 L76.0,198.8 L77.7,198.0 L79.3,197.3 L81.0,196.6 L82.7,195.9 L84.4,195.3 L86.1,194.7 L87.8,194.1 L89.4,193.7 L91.1,193.3 L92.8,193.0 L94.5,192.8 L96.2,192.6 L97.9,192.4 L99.6,192.3 L101.2,192.2 L102.9,192.2 L104.6,192.3 L106.3,192.4 L108.0,192.5 L109.7,192.7 L111.4,193.0 L113.0,193.3 L114.7,193.7 L116.4,194.1 L118.1,194.6 L119.8,195.1 L121.5,195.6 L123.1,196.2 L124.8,196.8 L126.5,197.5 L128.2,198.2 L129.9,199.0 L131.6,199.9 L133.3,200.8 L134.9,201.8 L136.6,202.8 L138.3,203.9 L140.0,205.0 L141.7,206.2 L143.4,207.5 L145.0,208.8 L146.7,210.3 L148.4,211.9 L150.1,213.7" stroke="rgb(183,183,183)"/>
<path d="M50.7,220.8 L52.4,218.5 L54.1,216.1 L55.8,213.6 L57.4,211.2 L59.1,209.0 L60.8,207.1 L62.5,205.5 L64.2,204.1 L65.9,202.9 L67.5,201.6 L69.2,200.4 L70.9,199.3 L72.6,198.3 L74.3,197.4 L76.0,196.5 L77.7,195.7 L79.3,195.0 L81.0,194.2 L82.7,193.5 L84.4,192.8 L86.1,192.2 L87.8,191.7 L89.4,191.2 L91.1,190.8 L92.8,190.5 L94.5,190.2 L96.2,190.0 L97.9,189.9 L99.6,189.7 L101.2,189.7 L102.9,189.6 L104.6,189.7 L106.3,189.8 L108.0,190.0 L109.7,190.2 L111.4,190.5 L113.0,190.8 L114.7,191.2 L116.4,191.7 L118.1,192.1 L119.8,192.6 L121.5,193.2 L123.1,193.8 L124.8,194.4 L126.5,195.1 L128.2,195.9 L129.9,196.8 L131.6,197.7 L133.3,198.6 L134.9,199.7 L136.6,200.7 L138.3,201.9 L140.0,203.1 L141.7,204.3 L143.4,205.6 L145.0,207.0 L146.7,208.6 L148.4,210.3 L150.1,212.1" stroke="rgb(182,182,182)"/>
<path d="M50.7,219.8 L52.4,217.4 L54.1,214.9 L55.8,212.3 L57.4,209.8 L59.1,207.5 L60.8,205.5 L62.5,203.9 L64.2,202.4 L65.9,201.1 L67.5,199.8 L69.2,198.5 L70.9,197.4 L72.6,196.3 L74.3,195.4 L76.0,194.5 L77.7,193.7 L79.3,192.9 L81.0,192.1 L82.7,191.4 L84.4,190.6 L86.1,190.0 L87.8,189.4 L89.4,189.0 L91.1,188.6 L92.8,188.2 L94.5,188.0 L96.2,187.7 L97.9,187.6 L99.6,187.4 L101.2,187.4 L102.9,187.3 L104.6,187.4 L106.3,187.5 L108.0,187.7 L109.7,187.9 L111.4,188.2 L113.0,188.6 L114.7,189.0 L116.4,189.4 L118.1,189.9 L119.8,190.5 L121.5,191.0 L123.1,191.6 L124.8,192.3 L126.5,193.1 L128.2,193.9 L129.9,194.8 L131.6,195.7 L133.3,196.7 L134.9,197.8 L136.6,198.9 L138.3,200.1 L140.0,201.3 L141.7,202.6 L143.4,204.0 L145.0,205.4 L146.7,207.0 L148.4,208.8 L150.1,210.7" stroke="rgb(181,181,181)"/>
<path d="M50.7,218.9 L52.4,216.4 L54.1,213.8 L55.8,211.1 L57.4,208.5 L59.1,206.1 L60.8,204.1 L62.5,202.4 L64.2,200.9 L65.9,199.5 L67.5,198.2 L69.2,196.9 L70.9,195.7 L72.6,194.6 L74.3,193.6 L76.0,192.7 L77.7,191.9 L79.3,191.0 L81.0,190.2 L82.7,189.4 L84.4,188.7 L86.1,188.0 L87.8,187.5 L89.4,187.0 L91.1,186.5 L92.8,186.2 L94.5,185.9 L96.2,185.7 L97.9,185.5 L99.6,185.4 L101.2,185.3 L102.9,185.3 L104.6,185.3 L106.3,185.4 L108.0,185.6 L109.7,185.9 L111.4,186.2 L113.0,186.6 L114.7,187.0 L116.4,187.5 L118.1,188.0 L119.8,188.5 L121.5,189.1 L123.1,189.7 L124.8,190.4 L126.5,191.2 L128.2,192.1 L129.9,193.0 L131.6,193.9 L133.3,195.0 L134.9,196.1 L136.6,197.2 L138.3,198.5 L140.0,199.7 L141.7,201.1 L143.4,202.5 L145.0,204.0 L146.7,205.7 L148.4,207.5 L150.1,209.5" stroke="rgb(180,180,180)"/>
<path d="M50.7,218.0 L52.4,215.5 L54.1,212.8 L55.8,210.0 L57.4,207.4 L59.1,204.9 L60.8,202.8 L62.5,201.1 L64.2,199.5 L65.9,198.1 L67.5,196.7 L69.2,195.4 L70.9,194.1 L72.6,193.0 L74.3,192.0 L76.0,191.1 L77.7,190.2 L79.3,189.4 L81.0,188.5 L82.7,187.7 L84.4,187.0 L86.1,186.3 L87.8,185.7 L89.4,185.2 L91.1,184.7 L92.8,184.4 L94.5,184.1 L96.2,183.9 L97.9,183.7 L99.6,183.5 L101.2,183.5 L102.9,183.4 L104.6,183.5 L106.3,183.6 L108.0,183.8 L109.7,184.0 L111.4,184.4 L113.0,184.8 L114.7,185.2 L116.4,185.7 L118.1,186.2 L119.8,186.8 L121.5,187.4 L123.1,188.0 L124.8,188.8 L126.5,189.6 L128.2,190.4 L129.9,191.4 L131.6,192.4 L133.3,193.4 L134.9,194.6 L136.6,195.8 L138.3,197.0 L140.0,198.3 L141.7,199.7 L143.4,201.2 L145.0,202.7 L146.7,204.5 L148.4,206.3 L150.1,208.4" stroke="rgb(179,179,179)"/>
<path d="M50.7,217.3 L52.4,214.7 L54.1,211.9 L55.8,209.1 L57.4,206.3 L59.1,203.8 L60.8,201.7 L62.5,199.9 L64.2,198.3 L65.9,196.8 L67.5,195.4 L69.2,194.0 L70.9,192.8 L72.6,191.6 L74.3,190.6 L76.0,189.6 L77.7,188.7 L79.3,187.9 L81.0,187.0 L82.7,186.2 L84.4,185.4 L86.1,184.7 L87.8,184.1 L89.4,183.6 L91.1,183.1 L92.8,182.8 L94.5,182.5 L96.2,182.2 L97.9,182.0 L99.6,181.9 L101.2,181.8 L102.9,181.8 L104.6,181.8 L106.3,181.9 L108.0,182.1 L109.7,182.4 L111.4,182.7 L113.0,183.1 L114.7,183.6 L116.4,184.1 L118.1,184.6 L119.8,185.2 L121.5,185.8 L123.1,186.5 L124.8,187.2 L126.5,188.1 L128.2,188.9 L129.9,189.9 L131.6,190.9 L133.3,192.0 L134.9,193.2 L136.6,194.4 L138.3,195.7 L140.0,197.1 L141.7,198.5 L143.4,200.0 L145.0,201.6 L146.7,203.4 L148.4,205.3 L150.1,207.4" stroke="rgb(178,178,178)"/>
<path d="M50.7,216.6 L52.4,214.0 L54.1,211.1 L55.8,208.2 L57.4,205.4 L59.1,202.8 L60.8,200.6 L62.5,198.8 L64.2,197.2 L65.9,195.7 L67.5,194.2 L69.2,192.8 L70.9,191.5 L72.6,190.3 L74.3,189.3 L76.0,188.3 L77.7,187.4 L79.3,186.5 L81.0,185.6 L82.7,184.8 L84.4,184.0 L86.1,183.2 L87.8,182.6 L89.4,182.1 L91.1,181.6 L92.8,181.3 L94.5,181.0 L96.2,180.7 L97.9,180.5 L99.6,180.4 L101.2,180.3 L102.9,180.3 L104.6,180.3 L106.3,180.4 L108.0,180.6 L109.7,180.9 L111.4,181.2 L113.0,181.6 L114.7,182.1 L116.4,182.6 L118.1,183.2 L119.8,183.8 L121.5,184.4 L123.1,185.1 L124.8,185.9 L126.5,186.7 L128.2,187.6 L129.9,188.6 L131.6,189.6 L133.3,190.8 L134.9,191.9 L136.6,193.2 L138.3,194.5 L140.0,195.9 L141.7,197.4 L143.4,198.9 L145.0,200.6 L146.7,202.3 L148.4,204.3 L150.1,206.5" stroke="rgb(176,176,176)"/>
<path d="M50.7,216.0 L52.4,213.3 L54.1,210.4 L55.8,207.4 L57.4,204.5 L59.1,201.9 L60.8,199.7 L62.5,197.8 L64.2,196.2 L65.9,194.6 L67.5,193.1 L69.2,191.7 L70.9,190.4 L72.6,189.2 L74.3,188.1 L76.0,187.1 L77.7,186.1 L79.3,185.2 L81.0,184.3 L82.7,183.5 L84.4,182.7 L86.1,181.9 L87.8,181.3 L89.4,180.7 L91.1,180.3 L92.8,179.9 L94.5,179.6 L96.2,179.3 L97.9,179.1 L99.6,179.0 L101.2,178.9 L102.9,178.9 L104.6,178.9 L106.3,179.1 L108.0,179.3 L109.7,179.5 L111.4,179.9 L113.0,180.3 L114.7,180.8 L116.4,181.3 L118.1,181.8 L119.8,182.5 L121.5,183.1 L123.1,183.8 L124.8,184.6 L126.5,185.4 L128.2,186.4 L129.9,187.4 L131.6,188.4 L133.3,189.6 L134.9,190.8 L136.6,192.1 L138.3,193.4 L140.0,194.9 L141.7,196.3 L143.4,197.9 L145.0,199.6 L146.7,201.4 L148.4,203.4 L150.1,205.6" stroke="rgb(175,175,175)"/>
<path d="M50.7,215.4 L52.4,212.7 L54.1,209.7 L55.8,206.7 L57.4,203.7 L59.1,201.1 L60.8,198.8 L62.5,196.9 L64.2,195.2 L65.9,193.6 L67.5,192.1 L69.2,190.7 L70.9,189.3 L72.6,188.1 L74.3,187.0 L76.0,186.0 L77.7,185.0 L79.3,184.1 L81.0,183.2 L82.7,182.3 L84.4,181.5 L86.1,180.7 L87.8,180.0 L89.4,179.5 L91.1,179.0 L92.8,178.6 L94.5,178.3 L96.2,178.1 L97.9,177.9 L99.6,177.7 L101.2,177.6 L102.9,177.6 L104.6,177.6 L106.3,177.8 L108.0,178.0 L109.7,178.3 L111.4,178.6 L113.0,179.0 L114.7,179.5 L116.4,180.0 L118.1,180.6 L119.8,181.2 L121.5,181.9 L123.1,182.6 L124.8,183.4 L126.5,184.3 L128.2,185.2 L129.9,186.2 L131.6,187.3 L133.3,188.5 L134.9,189.8 L136.6,191.1 L138.3,192.4 L140.0,193.9 L141.7,195.4 L143.4,197.0 L145.0,198.7 L146.7,200.6 L148.4,202.6 L150.1,204.9" stroke="rgb(174,174,174)"/>
<path d="M50.7,214.9 L52.4,212.1 L54.1,209.1 L55.8,206.0 L57.4,203.0 L59.1,200.3 L60.8,198.0 L62.5,196.0 L64.2,194.3 L65.9,192.7 L67.5,191.2 L69.2,189.7 L70.9,188.3 L72.6,187.1 L74.3,185.9 L76.0,184.9 L77.7,183.9 L79.3,183.0 L81.0,182.1 L82.7,181.2 L84.4,180.3 L86.1,179.6 L87.8,178.9 L89.4,178.3 L91.1,177.9 L92.8,177.5 L94.5,177.1 L96.2,176.9 L97.9,176.7 L99.6,176.5 L101.2,176.4 L102.9,176.4 L104.6,176.5 L106.3,176.6 L108.0,176.8 L109.7,177.1 L111.4,177.4 L113.0,177.9 L114.7,178.4 L116.4,178.9 L118.1,179.5 L119.8,180.1 L121.5,180.8 L123.1,181.5 L124.8,182.3 L126.5,183.2 L128.2,184.2 L129.9,185.2 L131.6,186.3 L133.3,187.5 L134.9,188.8 L136.6,190.1 L138.3,191.5 L140.0,193.0 L141.7,194.5 L143.4,196.1 L145.0,197.9 L146.7,199.8 L148.4,201.9 L150.1,204.2" stroke="rgb(172,172,172)"/>
<path d="M50.7,214.4 L52.4,211.6 L54.1,208.5 L55.8,205.4 L57.4,202.3 L59.1,199.6 L60.8,197.2 L62.5,195.2 L64.2,193.5 L65.9,191.9 L67.5,190.3 L69.2,188.8 L70.9,187.4 L72.6,186.1 L74.3,185.0 L76.0,183.9 L77.7,182.9 L79.3,182.0 L81.0,181.0 L82.7,180.1 L84.4,179.3 L86.1,178.5 L87.8,177.8 L89.4,177.2 L91.1,176.8 L92.8,176.4 L94.5,176.0 L96.2,175.8 L97.9,175.6 L99.6,175.4 L101.2,175.3 L102.9,175.3 L104.6,175.3 L106.3,175.5 L108.0,175.7 L109.7,176.0 L111.4,176.3 L113.0,176.8 L114.7,177.3 L116.4,177.8 L118.1,178.4 L119.8,179.1 L121.5,179.7 L123.1,180.5 L124.8,181.3 L126.5,182.2 L128.2,183.2 L129.9,184.2 L131.6,185.4 L133.3,186.6 L134.9,187.9 L136.6,189.2 L138.3,190.6 L140.0,192.1 L141.7,193.7 L143.4,195.3 L145.0,197.1 L146.7,199.0 L148.4,201.2 L150.1,203.5" stroke="rgb(170,170,170)"/>
<path d="M50.7,213.9 L52.4,211.0 L54.1,207.9 L55.8,204.8 L57.4,201.7 L59.1,198.9 L60.8,196.5 L62.5,194.5 L64.2,192.7 L65.9,191.1 L67.5,189.5 L69.2,187.9 L70.9,186.5 L72.6,185.2 L74.3,184.1 L76.0,183.0 L77.7,182.0 L79.3,181.0 L81.0,180.1 L82.7,179.2 L84.4,178.3 L86.1,177.5 L87.8,176.8 L89.4,176.2 L91.1,175.7 L92.8,175.3 L94.5,175.0 L96.2,174.7 L97.9,174.5 L99.6,174.4 L101.2,174.3 L102.9,174.2 L104.6,174.3 L106.3,174.4 L108.0,174.6 L109.7,174.9 L111.4,175.3 L113.0,175.7 L114.7,176.2 L116.4,176.8 L118.1,177.4 L119.8,178.1 L121.5,178.8 L123.1,179.5 L124.8,180.3 L126.5,181.2 L128.2,182.2 L129.9,183.3 L131.6,184.5 L133.3,185.7 L134.9,187.0 L136.6,188.4 L138.3,189.8 L140.0,191.3 L141.7,192.9 L143.4,194.6 L145.0,196.4 L146.7,198.3 L148.4,200.5 L150.1,202.9" stroke="rgb(169,169,169)"/>
<path d="M50.7,213.5 L52.4,210.6 L54.1,207.4 L55.8,204.2 L57.4,201.1 L59.1,198.2 L60.8,195.8 L62.5,193.8 L64.2,192.0 L65.9,190.3 L67.5,188.7 L69.2,187.1 L70.9,185.7 L72.6,184.4 L74.3,183.2 L76.0,182.1 L77.7,181.1 L79.3,180.1 L81.0,179.2 L82.7,178.2 L84.4,177.3 L86.1,176.5 L87.8,175.8 L89.4,175.3 L91.1,174.8 L92.8,174.4 L94.5,174.0 L96.2,173.7 L97.9,173.5 L99.6,173.4 L101.2,173.3 L102.9,173.2 L104.6,173.3 L106.3,173.4 L108.0,173.7 L109.7,174.0 L111.4,174.3 L113.0,174.8 L114.7,175.3 L116.4,175.8 L118.1,176.5 L119.8,177.1 L121.5,177.8 L123.1,178.6 L124.8,179.4 L126.5,180.4 L128.2,181.4 L129.9,182.5 L131.6,183.6 L133.3,184.9 L134.9,186.2 L136.6,187.6 L138.3,189.0 L140.0,190.6 L141.7,192.2 L143.4,193.9 L145.0,195.7 L146.7,197.7 L148.4,199.9 L150.1,202.3" stroke="rgb(167,167,167)"/>
<path d="M50.7,213.1 L52.4,210.1 L54.1,206.9 L55.8,203.6 L57.4,200.5 L59.1,197.6 L60.8,195.1 L62.5,193.1 L64.2,191.3 L65.9,189.6 L67.5,188.0 L69.2,186.4 L70.9,184.9 L72.6,183.6 L74.3,182.4 L76.0,181.3 L77.7,180.3 L79.3,179.3 L81.0,178.3 L82.7,177.4 L84.4,176.5 L86.1,175.7 L87.8,174.9 L89.4,174.3 L91.1,173.8 L92.8,173.4 L94.5,173.1 L96.2,172.8 L97.9,172.6 L99.6,172.4 L101.2,172.3 L102.9,172.3 L104.6,172.4 L106.3,172.5 L108.0,172.7 L109.7,173.0 L111.4,173.4 L113.0,173.9 L114.7,174.4 L116.4,174.9 L118.1,175.6 L119.8,176.2 L121.5,176.9 L123.1,177.7 L124.8,178.6 L126.5,179.5 L128.2,180.5 L129.9,181.6 L131.6,182.8 L133.3,184.1 L134.9,185.4 L136.6,186.8 L138.3,188.3 L140.0,189.8 L141.7,191.5 L143.4,193.2 L145.0,195.1 L146.7,197.1 L148.4,199.3 L150.1,201.7" stroke="rgb(165,165,165)"/>
<path d="M50.7,212.7 L52.4,209.7 L54.1,206.4 L55.8,203.1 L57.4,199.9 L59.1,197.0 L60.8,194.5 L62.5,192.4 L64.2,190.6 L65.9,188.9 L67.5,187.3 L69.2,185.7 L70.9,184.2 L72.6,182.8 L74.3,181.6 L76.0,180.5 L77.7,179.5 L79.3,178.5 L81.0,177.5 L82.7,176.5 L84.4,175.6 L86.1,174.8 L87.8,174.1 L89.4,173.5 L91.1,173.0 L92.8,172.5 L94.5,172.2 L96.2,171.9 L97.9,171.7 L99.6,171.5 L101.2,171.4 L102.9,171.4 L104.6,171.5 L106.3,171.6 L108.0,171.8 L109.7,172.1 L111.4,172.5 L113.0,173.0 L114.7,173.5 L116.4,174.1 L118.1,174.7 L119.8,175.4 L121.5,176.1 L123.1,176.9 L124.8,177.8 L126.5,178.7 L128.2,179.7 L129.9,180.9 L131.6,182.0 L133.3,183.3 L134.9,184.7 L136.6,186.1 L138.3,187.6 L140.0,189.2 L141.7,190.8 L143.4,192.6 L145.0,194.4 L146.7,196.5 L148.4,198.7 L150.1,201.2" stroke="rgb(164,164,164)"/>
<path d="M50.7,212.3 L52.4,209.3 L54.1,206.0 L55.8,202.6 L57.4,199.4 L59.1,196.5 L60.8,193.9 L62.5,191.8 L64.2,190.0 L65.9,188.3 L67.5,186.6 L69.2,185.0 L70.9,183.5 L72.6,182.1 L74.3,180.9 L76.0,179.8 L77.7,178.7 L79.3,177.7 L81.0,176.7 L82.7,175.7 L84.4,174.8 L86.1,174.0 L87.8,173.3 L89.4,172.6 L91.1,172.1 L92.8,171.7 L94.5,171.4 L96.2,171.1 L97.9,170.9 L99.6,170.7 L101.2,170.6 L102.9,170.6 L104.6,170.6 L106.3,170.8 L108.0,171.0 L109.7,171.3 L111.4,171.7 L113.0,172.1 L114.7,172.7 L116.4,173.3 L118.1,173.9 L119.8,174.6 L121.5,175.3 L123.1,176.1 L124.8,177.0 L126.5,177.9 L128.2,179.0 L129.9,180.1 L131.6,181.3 L133.3,182.6 L134.9,184.0 L136.6,185.4 L138.3,186.9 L140.0,188.5 L141.7,190.2 L143.4,192.0 L145.0,193.8 L146.7,195.9 L148.4,198.2 L150.1,200.6" stroke="rgb(162,162,162)"/>
<path d="M50.7,211.9 L52.4,208.9 L54.1,205.6 L55.8,202.2 L57.4,198.9 L59.1,195.9 L60.8,193.4 L62.5,191.2 L64.2,189.4 L65.9,187.6 L67.5,185.9 L69.2,184.3 L70.9,182.8 L72.6,181.4 L74.3,180.2 L76.0,179.1 L77.7,178.0 L79.3,177.0 L81.0,176.0 L82.7,175.0 L84.4,174.0 L86.1,173.2 L87.8,172.5 L89.4,171.9 L91.1,171.3 L92.8,170.9 L94.5,170.6 L96.2,170.3 L97.9,170.0 L99.6,169.9 L101.2,169.8 L102.9,169.8 L104.6,169.8 L106.3,169.9 L108.0,170.2 L109.7,170.5 L111.4,170.9 L113.0,171.4 L114.7,171.9 L116.4,172.5 L118.1,173.1 L119.8,173.8 L121.5,174.5 L123.1,175.4 L124.8,176.2 L126.5,177.2 L128.2,178.3 L129.9,179.4 L131.6,180.6 L133.3,181.9 L134.9,183.3 L136.6,184.8 L138.3,186.3 L140.0,187.9 L141.7,189.6 L143.4,191.4 L145.0,193.3 L146.7,195.4 L148.4,197.6 L150.1,200.2" stroke="rgb(160,160,160)"/>
<path d="M50.7,211.6 L52.4,208.5 L54.1,205.1 L55.8,201.7 L57.4,198.4 L59.1,195.4 L60.8,192.8 L62.5,190.7 L64.2,188.8 L65.9,187.0 L67.5,185.3 L69.2,183.7 L70.9,182.1 L72.6,180.8 L74.3,179.5 L76.0,178.4 L77.7,177.3 L79.3,176.3 L81.0,175.2 L82.7,174.2 L84.4,173.3 L86.1,172.5 L87.8,171.7 L89.4,171.1 L91.1,170.6 L92.8,170.1 L94.5,169.8 L96.2,169.5 L97.9,169.3 L99.6,169.1 L101.2,169.0 L102.9,169.0 L104.6,169.0 L106.3,169.2 L108.0,169.4 L109.7,169.7 L111.4,170.1 L113.0,170.6 L114.7,171.1 L116.4,171.7 L118.1,172.4 L119.8,173.1 L121.5,173.8 L123.1,174.6 L124.8,175.5 L126.5,176.5 L128.2,177.6 L129.9,178.7 L131.6,180.0 L133.3,181.3 L134.9,182.7 L136.6,184.1 L138.3,185.7 L140.0,187.3 L141.7,189.0 L143.4,190.8 L145.0,192.7 L146.7,194.8 L148.4,197.2 L150.1,199.7" stroke="rgb(158,158,158)"/>
<path d="M50.7,211.2 L52.4,208.1 L54.1,204.7 L55.8,201.3 L57.4,198.0 L59.1,194.9 L60.8,192.3 L62.5,190.1 L64.2,188.2 L65.9,186.5 L67.5,184.7 L69.2,183.1 L70.9,181.5 L72.6,180.1 L74.3,178.9 L76.0,177.7 L77.7,176.6 L79.3,175.6 L81.0,174.6 L82.7,173.5 L84.4,172.6 L86.1,171.7 L87.8,171.0 L89.4,170.4 L91.1,169.8 L92.8,169.4 L94.5,169.0 L96.2,168.7 L97.9,168.5 L99.6,168.3 L101.2,168.2 L102.9,168.2 L104.6,168.3 L106.3,168.4 L108.0,168.7 L109.7,169.0 L111.4,169.4 L113.0,169.9 L114.7,170.4 L116.4,171.0 L118.1,171.7 L119.8,172.4 L121.5,173.1 L123.1,173.9 L124.8,174.8 L126.5,175.8 L128.2,176.9 L129.9,178.1 L131.6,179.3 L133.3,180.6 L134.9,182.0 L136.6,183.5 L138.3,185.1 L140.0,186.7 L141.7,188.4 L143.4,190.3 L145.0,192.2 L146.7,194.4 L148.4,196.7 L150.1,199.2" stroke="rgb(156,156,156)"/>
<path d="M50.7,210.9 L52.4,207.8 L54.1,204.4 L55.8,200.9 L57.4,197.5 L59.1,194.4 L60.8,191.8 L62.5,189.6 L64.2,187.7 L65.9,185.9 L67.5,184.2 L69.2,182.5 L70.9,180.9 L72.6,179.5 L74.3,178.3 L76.0,177.1 L77.7,176.0 L79.3,174.9 L81.0,173.9 L82.7,172.9 L84.4,171.9 L86.1,171.1 L87.8,170.3 L89.4,169.7 L91.1,169.1 L92.8,168.7 L94.5,168.3 L96.2,168.0 L97.9,167.8 L99.6,167.6 L101.2,167.5 L102.9,167.5 L104.6,167.6 L106.3,167.7 L108.0,167.9 L109.7,168.3 L111.4,168.7 L113.0,169.1 L114.7,169.7 L116.4,170.3 L118.1,171.0 L119.8,171.7 L121.5,172.4 L123.1,173.3 L124.8,174.2 L126.5,175.2 L128.2,176.3 L129.9,177.4 L131.6,178.7 L133.3,180.0 L134.9,181.4 L136.6,182.9 L138.3,184.5 L140.0,186.2 L141.7,187.9 L143.4,189.8 L145.0,191.7 L146.7,193.9 L148.4,196.2 L150.1,198.8" stroke="rgb(154,154,154)"/>
<path d="M50.7,210.6 L52.4,207.4 L54.1,204.0 L55.8,200.5 L57.4,197.1 L59.1,194.0 L60.8,191.3 L62.5,189.1 L64.2,187.2 L65.9,185.4 L67.5,183.6 L69.2,181.9 L70.9,180.4 L72.6,178.9 L74.3,177.7 L76.0,176.5 L77.7,175.4 L79.3,174.3 L81.0,173.2 L82.7,172.2 L84.4,171.3 L86.1,170.4 L87.8,169.6 L89.4,169.0 L91.1,168.4 L92.8,168.0 L94.5,167.6 L96.2,167.3 L97.9,167.1 L99.6,166.9 L101.2,166.8 L102.9,166.8 L104.6,166.9 L106.3,167.0 L108.0,167.2 L109.7,167.6 L111.4,168.0 L113.0,168.5 L114.7,169.0 L116.4,169.6 L118.1,170.3 L119.8,171.0 L121.5,171.8 L123.1,172.6 L124.8,173.5 L126.5,174.5 L128.2,175.6 L129.9,176.8 L131.6,178.1 L133.3,179.4 L134.9,180.9 L136.6,182.4 L138.3,184.0 L140.0,185.6 L141.7,187.4 L143.4,189.3 L145.0,191.2 L146.7,193.4 L148.4,195.8 L150.1,198.4" stroke="rgb(151,151,151)"/>
<path d="M50.7,210.3 L52.4,207.1 L54.1,203.6 L55.8,200.1 L57.4,196.7 L59.1,193.5 L60.8,190.9 L62.5,188.6 L64.2,186.7 L65.9,184.9 L67.5,183.1 L69.2,181.4 L70.9,179.8 L72.6,178.4 L74.3,177.1 L76.0,175.9 L77.7,174.8 L79.3,173.7 L81.0,172.6 L82.7,171.6 L84.4,170.6 L86.1,169.7 L87.8,169.0 L89.4,168.3 L91.1,167.8 L92.8,167.3 L94.5,167.0 L96.2,166.7 L97.9,166.4 L99.6,166.3 L101.2,166.2 L102.9,166.1 L104.6,166.2 L106.3,166.3 L108.0,166.6 L109.7,166.9 L111.4,167.3 L113.0,167.8 L114.7,168.4 L116.4,169.0 L118.1,169.7 L119.8,170.4 L121.5,171.2 L123.1,172.0 L124.8,172.9 L126.5,173.9 L128.2,175.0 L129.9,176.2 L131.6,177.5 L133.3,178.9 L134.9,180.3 L136.6,181.8 L138.3,183.5 L140.0,185.1 L141.7,186.9 L143.4,188.8 L145.0,190.8 L146.7,193.0 L148.4,195.3 L150.1,198.0" stroke="rgb(149,149,149)"/>
</g>
<path d="M50.7,211.0 L52.4,207.7 L54.1,204.1 L55.8,200.5 L57.4,197.0 L59.1,193.7 L60.8,191.0 L62.5,188.7 L64.2,186.7 L65.9,184.8 L67.5,183.0 L69.2,181.2 L70.9,179.6 L72.6,178.1 L74.3,176.8 L76.0,175.5 L77.7,174.4 L79.3,173.3 L81.0,172.2 L82.7,171.1 L84.4,170.1 L86.1,169.2 L87.8,168.4 L89.4,167.7 L91.1,167.2 L92.8,166.7 L94.5,166.3 L96.2,166.0 L97.9,165.8 L99.6,165.6 L101.2,165.5 L102.9,165.5 L104.6,165.5 L106.3,165.7 L108.0,165.9 L109.7,166.3 L111.4,166.7 L113.0,167.2 L114.7,167.8 L116.4,168.4 L118.1,169.1 L119.8,169.9 L121.5,170.7 L123.1,171.5 L124.8,172.5 L126.5,173.5 L128.2,174.7 L129.9,175.9 L131.6,177.2 L133.3,178.6 L134.9,180.1 L136.6,181.7 L138.3,183.3 L140.0,185.1 L141.7,186.9 L143.4,188.8 L145.0,190.9 L146.7,193.1 L148.4,195.6 L150.1,198.3" stroke="#7e3414" stroke-width="2.3" fill="none" stroke-linecap="butt"/>
<rect x="40.35" y="159.5" width="124.00" height="88.25" stroke="#2b2b2b" stroke-width="0.8" fill="none"/>
<path d="M61.02,247.75 V246.55 M61.02,159.5 V160.7" stroke="#2b2b2b" stroke-width="0.75"/>
<text x="61.02" y="263.30" font-size="11.5" fill="#1a1a1a" text-anchor="middle" >-100</text>
<path d="M102.35,247.75 V246.55 M102.35,159.5 V160.7" stroke="#2b2b2b" stroke-width="0.75"/>
<text x="102.35" y="263.30" font-size="11.5" fill="#1a1a1a" text-anchor="middle" >0</text>
<path d="M143.68,247.75 V246.55 M143.68,159.5 V160.7" stroke="#2b2b2b" stroke-width="0.75"/>
<text x="143.68" y="263.30" font-size="11.5" fill="#1a1a1a" text-anchor="middle" >100</text>
<path d="M40.35,247.75 H41.550000000000004 M164.35,247.75 H163.15" stroke="#2b2b2b" stroke-width="0.75"/>
<text x="35.55" y="251.45" font-size="11.5" fill="#1a1a1a" text-anchor="end" >0</text>
<path d="M40.35,212.45 H41.550000000000004 M164.35,212.45 H163.15" stroke="#2b2b2b" stroke-width="0.75"/>
<text x="35.55" y="216.15" font-size="11.5" fill="#1a1a1a" text-anchor="end" >20</text>
<path d="M40.35,177.15 H41.550000000000004 M164.35,177.15 H163.15" stroke="#2b2b2b" stroke-width="0.75"/>
<text x="35.55" y="180.85" font-size="11.5" fill="#1a1a1a" text-anchor="end" >40</text>
<text x="62.36" y="276.70" font-size="11.3" fill="#1a1a1a" textLength="49.87" lengthAdjust="spacingAndGlyphs">x-position</text>
<text x="116.30" y="276.70" font-size="11.3" fill="#1a1a1a" textLength="25.69" lengthAdjust="spacingAndGlyphs">[mm]</text>
<text transform="translate(17.30,254.95) rotate(-90)" x="0" y="0" font-size="12" fill="#1a1a1a" textLength="72.68" lengthAdjust="spacingAndGlyphs" >z-displacement</text>
<text transform="translate(17.30,176.72) rotate(-90)" x="0" y="0" font-size="12" fill="#1a1a1a" textLength="24.86" lengthAdjust="spacingAndGlyphs" >[mm]</text>
<g fill="none" stroke-width="0.7">
<path d="M234.5,244.9 L236.3,244.8 L238.0,244.7 L239.8,244.6 L241.6,244.5 L243.3,244.4 L245.1,244.3 L246.9,244.2 L248.7,244.2 L250.4,244.1 L252.2,244.1 L254.0,244.0 L255.7,244.0 L257.5,243.9 L259.3,243.9 L261.0,243.9 L262.8,243.8 L264.6,243.8 L266.4,243.8 L268.1,243.8 L269.9,243.7 L271.7,243.7 L273.4,243.7 L275.2,243.7 L277.0,243.7 L278.7,243.7 L280.5,243.7 L282.3,243.7 L284.0,243.7 L285.8,243.7 L287.6,243.7 L289.4,243.7 L291.1,243.7 L292.9,243.7 L294.7,243.7 L296.4,243.7 L298.2,243.7 L300.0,243.8 L301.7,243.8 L303.5,243.8 L305.3,243.8 L307.0,243.9 L308.8,243.9 L310.6,244.0 L312.4,244.0 L314.1,244.0 L315.9,244.1 L317.7,244.1 L319.4,244.2 L321.2,244.2 L323.0,244.3 L324.7,244.4 L326.5,244.4 L328.3,244.5 L330.1,244.6 L331.8,244.6 L333.6,244.7 L335.4,244.8 L337.1,244.8 L338.9,244.9" stroke="rgb(192,192,192)"/>
<path d="M234.5,243.8 L236.3,243.6 L238.0,243.4 L239.8,243.2 L241.6,243.0 L243.3,242.8 L245.1,242.6 L246.9,242.5 L248.7,242.4 L250.4,242.3 L252.2,242.2 L254.0,242.1 L255.7,242.0 L257.5,241.9 L259.3,241.8 L261.0,241.8 L262.8,241.7 L264.6,241.7 L266.4,241.6 L268.1,241.6 L269.9,241.5 L271.7,241.5 L273.4,241.5 L275.2,241.5 L277.0,241.4 L278.7,241.4 L280.5,241.4 L282.3,241.4 L284.0,241.4 L285.8,241.4 L287.6,241.4 L289.4,241.4 L291.1,241.4 L292.9,241.4 L294.7,241.5 L296.4,241.5 L298.2,241.5 L300.0,241.6 L301.7,241.6 L303.5,241.7 L305.3,241.7 L307.0,241.8 L308.8,241.9 L310.6,242.0 L312.4,242.0 L314.1,242.1 L315.9,242.2 L317.7,242.3 L319.4,242.4 L321.2,242.5 L323.0,242.6 L324.7,242.8 L326.5,242.9 L328.3,243.0 L330.1,243.2 L331.8,243.3 L333.6,243.5 L335.4,243.6 L337.1,243.7 L338.9,243.8" stroke="rgb(192,192,192)"/>
<path d="M234.5,242.8 L236.3,242.4 L238.0,242.1 L239.8,241.8 L241.6,241.5 L243.3,241.2 L245.1,241.0 L246.9,240.8 L248.7,240.6 L250.4,240.4 L252.2,240.3 L254.0,240.1 L255.7,240.0 L257.5,239.9 L259.3,239.8 L261.0,239.7 L262.8,239.6 L264.6,239.5 L266.4,239.5 L268.1,239.4 L269.9,239.3 L271.7,239.3 L273.4,239.3 L275.2,239.2 L277.0,239.2 L278.7,239.2 L280.5,239.1 L282.3,239.1 L284.0,239.1 L285.8,239.1 L287.6,239.1 L289.4,239.1 L291.1,239.2 L292.9,239.2 L294.7,239.2 L296.4,239.3 L298.2,239.3 L300.0,239.4 L301.7,239.5 L303.5,239.5 L305.3,239.6 L307.0,239.7 L308.8,239.8 L310.6,240.0 L312.4,240.1 L314.1,240.2 L315.9,240.3 L317.7,240.5 L319.4,240.6 L321.2,240.8 L323.0,241.0 L324.7,241.2 L326.5,241.4 L328.3,241.6 L330.1,241.8 L331.8,242.0 L333.6,242.2 L335.4,242.4 L337.1,242.6 L338.9,242.8" stroke="rgb(192,192,192)"/>
<path d="M234.5,241.7 L236.3,241.2 L238.0,240.8 L239.8,240.4 L241.6,240.0 L243.3,239.7 L245.1,239.3 L246.9,239.1 L248.7,238.8 L250.4,238.6 L252.2,238.4 L254.0,238.2 L255.7,238.0 L257.5,237.9 L259.3,237.7 L261.0,237.6 L262.8,237.5 L264.6,237.4 L266.4,237.3 L268.1,237.2 L269.9,237.1 L271.7,237.1 L273.4,237.0 L275.2,237.0 L277.0,236.9 L278.7,236.9 L280.5,236.9 L282.3,236.9 L284.0,236.8 L285.8,236.8 L287.6,236.8 L289.4,236.9 L291.1,236.9 L292.9,236.9 L294.7,237.0 L296.4,237.1 L298.2,237.1 L300.0,237.2 L301.7,237.3 L303.5,237.4 L305.3,237.5 L307.0,237.7 L308.8,237.8 L310.6,238.0 L312.4,238.1 L314.1,238.3 L315.9,238.5 L317.7,238.7 L319.4,238.9 L321.2,239.1 L323.0,239.3 L324.7,239.6 L326.5,239.8 L328.3,240.1 L330.1,240.4 L331.8,240.7 L333.6,241.0 L335.4,241.3 L337.1,241.5 L338.9,241.7" stroke="rgb(192,192,192)"/>
<path d="M234.5,240.7 L236.3,240.1 L238.0,239.5 L239.8,239.0 L241.6,238.5 L243.3,238.1 L245.1,237.7 L246.9,237.3 L248.7,237.0 L250.4,236.7 L252.2,236.5 L254.0,236.2 L255.7,236.0 L257.5,235.9 L259.3,235.7 L261.0,235.5 L262.8,235.4 L264.6,235.3 L266.4,235.1 L268.1,235.0 L269.9,234.9 L271.7,234.9 L273.4,234.8 L275.2,234.7 L277.0,234.7 L278.7,234.6 L280.5,234.6 L282.3,234.6 L284.0,234.6 L285.8,234.6 L287.6,234.6 L289.4,234.6 L291.1,234.6 L292.9,234.7 L294.7,234.7 L296.4,234.8 L298.2,234.9 L300.0,235.0 L301.7,235.1 L303.5,235.3 L305.3,235.4 L307.0,235.6 L308.8,235.8 L310.6,236.0 L312.4,236.2 L314.1,236.4 L315.9,236.6 L317.7,236.9 L319.4,237.1 L321.2,237.4 L323.0,237.7 L324.7,238.0 L326.5,238.3 L328.3,238.7 L330.1,239.0 L331.8,239.4 L333.6,239.8 L335.4,240.1 L337.1,240.4 L338.9,240.7" stroke="rgb(192,192,192)"/>
<path d="M234.5,239.6 L236.3,238.9 L238.0,238.2 L239.8,237.6 L241.6,237.0 L243.3,236.5 L245.1,236.0 L246.9,235.6 L248.7,235.2 L250.4,234.9 L252.2,234.6 L254.0,234.3 L255.7,234.1 L257.5,233.8 L259.3,233.6 L261.0,233.4 L262.8,233.3 L264.6,233.1 L266.4,233.0 L268.1,232.9 L269.9,232.7 L271.7,232.6 L273.4,232.6 L275.2,232.5 L277.0,232.4 L278.7,232.4 L280.5,232.3 L282.3,232.3 L284.0,232.3 L285.8,232.3 L287.6,232.3 L289.4,232.3 L291.1,232.4 L292.9,232.4 L294.7,232.5 L296.4,232.6 L298.2,232.7 L300.0,232.8 L301.7,233.0 L303.5,233.1 L305.3,233.3 L307.0,233.5 L308.8,233.7 L310.6,234.0 L312.4,234.2 L314.1,234.5 L315.9,234.7 L317.7,235.0 L319.4,235.3 L321.2,235.7 L323.0,236.0 L324.7,236.4 L326.5,236.8 L328.3,237.2 L330.1,237.6 L331.8,238.1 L333.6,238.5 L335.4,238.9 L337.1,239.3 L338.9,239.6" stroke="rgb(191,191,191)"/>
<path d="M234.5,238.6 L236.3,237.7 L238.0,236.9 L239.8,236.2 L241.6,235.5 L243.3,234.9 L245.1,234.4 L246.9,233.9 L248.7,233.5 L250.4,233.1 L252.2,232.7 L254.0,232.4 L255.7,232.1 L257.5,231.8 L259.3,231.6 L261.0,231.4 L262.8,231.2 L264.6,231.0 L266.4,230.8 L268.1,230.7 L269.9,230.5 L271.7,230.4 L273.4,230.3 L275.2,230.3 L277.0,230.2 L278.7,230.1 L280.5,230.1 L282.3,230.0 L284.0,230.0 L285.8,230.0 L287.6,230.0 L289.4,230.0 L291.1,230.1 L292.9,230.2 L294.7,230.3 L296.4,230.4 L298.2,230.5 L300.0,230.7 L301.7,230.8 L303.5,231.0 L305.3,231.2 L307.0,231.4 L308.8,231.7 L310.6,232.0 L312.4,232.2 L314.1,232.6 L315.9,232.9 L317.7,233.2 L319.4,233.6 L321.2,234.0 L323.0,234.4 L324.7,234.8 L326.5,235.3 L328.3,235.8 L330.1,236.3 L331.8,236.8 L333.6,237.3 L335.4,237.7 L337.1,238.2 L338.9,238.6" stroke="rgb(191,191,191)"/>
<path d="M234.5,237.5 L236.3,236.5 L238.0,235.7 L239.8,234.8 L241.6,234.1 L243.3,233.4 L245.1,232.7 L246.9,232.2 L248.7,231.7 L250.4,231.2 L252.2,230.8 L254.0,230.4 L255.7,230.1 L257.5,229.8 L259.3,229.5 L261.0,229.3 L262.8,229.1 L264.6,228.9 L266.4,228.7 L268.1,228.5 L269.9,228.3 L271.7,228.2 L273.4,228.1 L275.2,228.0 L277.0,227.9 L278.7,227.9 L280.5,227.8 L282.3,227.8 L284.0,227.7 L285.8,227.7 L287.6,227.7 L289.4,227.8 L291.1,227.8 L292.9,227.9 L294.7,228.0 L296.4,228.2 L298.2,228.3 L300.0,228.5 L301.7,228.7 L303.5,228.9 L305.3,229.1 L307.0,229.4 L308.8,229.7 L310.6,230.0 L312.4,230.3 L314.1,230.6 L315.9,231.0 L317.7,231.4 L319.4,231.8 L321.2,232.3 L323.0,232.7 L324.7,233.2 L326.5,233.7 L328.3,234.3 L330.1,234.9 L331.8,235.5 L333.6,236.0 L335.4,236.6 L337.1,237.1 L338.9,237.5" stroke="rgb(191,191,191)"/>
<path d="M234.5,236.5 L236.3,235.4 L238.0,234.4 L239.8,233.4 L241.6,232.6 L243.3,231.8 L245.1,231.1 L246.9,230.5 L248.7,229.9 L250.4,229.4 L252.2,228.9 L254.0,228.5 L255.7,228.1 L257.5,227.8 L259.3,227.5 L261.0,227.2 L262.8,226.9 L264.6,226.7 L266.4,226.5 L268.1,226.3 L269.9,226.1 L271.7,226.0 L273.4,225.9 L275.2,225.8 L277.0,225.7 L278.7,225.6 L280.5,225.5 L282.3,225.5 L284.0,225.5 L285.8,225.4 L287.6,225.5 L289.4,225.5 L291.1,225.6 L292.9,225.7 L294.7,225.8 L296.4,225.9 L298.2,226.1 L300.0,226.3 L301.7,226.5 L303.5,226.7 L305.3,227.0 L307.0,227.3 L308.8,227.6 L310.6,228.0 L312.4,228.3 L314.1,228.7 L315.9,229.1 L317.7,229.6 L319.4,230.0 L321.2,230.5 L323.0,231.1 L324.7,231.6 L326.5,232.2 L328.3,232.8 L330.1,233.5 L331.8,234.1 L333.6,234.8 L335.4,235.4 L337.1,236.0 L338.9,236.5" stroke="rgb(190,190,190)"/>
<path d="M234.5,235.4 L236.3,234.2 L238.0,233.1 L239.8,232.0 L241.6,231.1 L243.3,230.2 L245.1,229.4 L246.9,228.7 L248.7,228.1 L250.4,227.5 L252.2,227.0 L254.0,226.5 L255.7,226.1 L257.5,225.8 L259.3,225.4 L261.0,225.1 L262.8,224.8 L264.6,224.6 L266.4,224.3 L268.1,224.1 L269.9,223.9 L271.7,223.8 L273.4,223.6 L275.2,223.5 L277.0,223.4 L278.7,223.3 L280.5,223.3 L282.3,223.2 L284.0,223.2 L285.8,223.2 L287.6,223.2 L289.4,223.2 L291.1,223.3 L292.9,223.4 L294.7,223.5 L296.4,223.7 L298.2,223.9 L300.0,224.1 L301.7,224.3 L303.5,224.6 L305.3,224.9 L307.0,225.2 L308.8,225.6 L310.6,226.0 L312.4,226.4 L314.1,226.8 L315.9,227.3 L317.7,227.8 L319.4,228.3 L321.2,228.8 L323.0,229.4 L324.7,230.0 L326.5,230.7 L328.3,231.4 L330.1,232.1 L331.8,232.8 L333.6,233.6 L335.4,234.2 L337.1,234.9 L338.9,235.4" stroke="rgb(190,190,190)"/>
<path d="M234.5,234.4 L236.3,233.0 L238.0,231.8 L239.8,230.6 L241.6,229.6 L243.3,228.6 L245.1,227.8 L246.9,227.0 L248.7,226.3 L250.4,225.7 L252.2,225.1 L254.0,224.6 L255.7,224.1 L257.5,223.7 L259.3,223.4 L261.0,223.0 L262.8,222.7 L264.6,222.4 L266.4,222.2 L268.1,222.0 L269.9,221.7 L271.7,221.6 L273.4,221.4 L275.2,221.3 L277.0,221.2 L278.7,221.1 L280.5,221.0 L282.3,220.9 L284.0,220.9 L285.8,220.9 L287.6,220.9 L289.4,221.0 L291.1,221.0 L292.9,221.2 L294.7,221.3 L296.4,221.5 L298.2,221.7 L300.0,221.9 L301.7,222.2 L303.5,222.5 L305.3,222.8 L307.0,223.2 L308.8,223.5 L310.6,224.0 L312.4,224.4 L314.1,224.9 L315.9,225.4 L317.7,225.9 L319.4,226.5 L321.2,227.1 L323.0,227.8 L324.7,228.4 L326.5,229.2 L328.3,229.9 L330.1,230.7 L331.8,231.5 L333.6,232.3 L335.4,233.1 L337.1,233.7 L338.9,234.4" stroke="rgb(189,189,189)"/>
<path d="M234.5,233.3 L236.3,231.8 L238.0,230.5 L239.8,229.3 L241.6,228.1 L243.3,227.1 L245.1,226.1 L246.9,225.3 L248.7,224.5 L250.4,223.8 L252.2,223.2 L254.0,222.7 L255.7,222.2 L257.5,221.7 L259.3,221.3 L261.0,220.9 L262.8,220.6 L264.6,220.3 L266.4,220.0 L268.1,219.8 L269.9,219.5 L271.7,219.3 L273.4,219.2 L275.2,219.0 L277.0,218.9 L278.7,218.8 L280.5,218.7 L282.3,218.7 L284.0,218.6 L285.8,218.6 L287.6,218.6 L289.4,218.7 L291.1,218.8 L292.9,218.9 L294.7,219.1 L296.4,219.3 L298.2,219.5 L300.0,219.7 L301.7,220.0 L303.5,220.3 L305.3,220.7 L307.0,221.1 L308.8,221.5 L310.6,222.0 L312.4,222.5 L314.1,223.0 L315.9,223.5 L317.7,224.1 L319.4,224.7 L321.2,225.4 L323.0,226.1 L324.7,226.8 L326.5,227.6 L328.3,228.5 L330.1,229.3 L331.8,230.2 L333.6,231.1 L335.4,231.9 L337.1,232.6 L338.9,233.3" stroke="rgb(188,188,188)"/>
<path d="M234.5,232.2 L236.3,230.7 L238.0,229.2 L239.8,227.9 L241.6,226.6 L243.3,225.5 L245.1,224.5 L246.9,223.6 L248.7,222.7 L250.4,222.0 L252.2,221.3 L254.0,220.7 L255.7,220.2 L257.5,219.7 L259.3,219.3 L261.0,218.9 L262.8,218.5 L264.6,218.2 L266.4,217.9 L268.1,217.6 L269.9,217.3 L271.7,217.1 L273.4,216.9 L275.2,216.8 L277.0,216.7 L278.7,216.6 L280.5,216.5 L282.3,216.4 L284.0,216.4 L285.8,216.3 L287.6,216.3 L289.4,216.4 L291.1,216.5 L292.9,216.7 L294.7,216.8 L296.4,217.0 L298.2,217.3 L300.0,217.5 L301.7,217.9 L303.5,218.2 L305.3,218.6 L307.0,219.0 L308.8,219.5 L310.6,220.0 L312.4,220.5 L314.1,221.1 L315.9,221.7 L317.7,222.3 L319.4,223.0 L321.2,223.7 L323.0,224.4 L324.7,225.2 L326.5,226.1 L328.3,227.0 L330.1,228.0 L331.8,228.9 L333.6,229.8 L335.4,230.7 L337.1,231.5 L338.9,232.2" stroke="rgb(188,188,188)"/>
<path d="M234.5,231.2 L236.3,229.5 L238.0,227.9 L239.8,226.5 L241.6,225.1 L243.3,223.9 L245.1,222.8 L246.9,221.8 L248.7,221.0 L250.4,220.2 L252.2,219.4 L254.0,218.8 L255.7,218.2 L257.5,217.7 L259.3,217.2 L261.0,216.8 L262.8,216.4 L264.6,216.0 L266.4,215.7 L268.1,215.4 L269.9,215.1 L271.7,214.9 L273.4,214.7 L275.2,214.6 L277.0,214.4 L278.7,214.3 L280.5,214.2 L282.3,214.1 L284.0,214.1 L285.8,214.1 L287.6,214.1 L289.4,214.1 L291.1,214.2 L292.9,214.4 L294.7,214.6 L296.4,214.8 L298.2,215.1 L300.0,215.4 L301.7,215.7 L303.5,216.1 L305.3,216.5 L307.0,216.9 L308.8,217.4 L310.6,218.0 L312.4,218.5 L314.1,219.2 L315.9,219.8 L317.7,220.5 L319.4,221.2 L321.2,222.0 L323.0,222.8 L324.7,223.7 L326.5,224.6 L328.3,225.6 L330.1,226.6 L331.8,227.6 L333.6,228.6 L335.4,229.5 L337.1,230.4 L338.9,231.2" stroke="rgb(187,187,187)"/>
<path d="M234.5,230.1 L236.3,228.3 L238.0,226.6 L239.8,225.1 L241.6,223.7 L243.3,222.4 L245.1,221.2 L246.9,220.1 L248.7,219.2 L250.4,218.3 L252.2,217.5 L254.0,216.8 L255.7,216.2 L257.5,215.7 L259.3,215.1 L261.0,214.7 L262.8,214.3 L264.6,213.9 L266.4,213.5 L268.1,213.2 L269.9,212.9 L271.7,212.7 L273.4,212.5 L275.2,212.3 L277.0,212.2 L278.7,212.0 L280.5,211.9 L282.3,211.9 L284.0,211.8 L285.8,211.8 L287.6,211.8 L289.4,211.9 L291.1,212.0 L292.9,212.1 L294.7,212.3 L296.4,212.6 L298.2,212.9 L300.0,213.2 L301.7,213.5 L303.5,213.9 L305.3,214.4 L307.0,214.9 L308.8,215.4 L310.6,216.0 L312.4,216.6 L314.1,217.2 L315.9,217.9 L317.7,218.7 L319.4,219.4 L321.2,220.3 L323.0,221.1 L324.7,222.1 L326.5,223.0 L328.3,224.1 L330.1,225.2 L331.8,226.3 L333.6,227.4 L335.4,228.4 L337.1,229.3 L338.9,230.1" stroke="rgb(186,186,186)"/>
<path d="M234.5,229.1 L236.3,227.1 L238.0,225.4 L239.8,223.7 L241.6,222.2 L243.3,220.8 L245.1,219.5 L246.9,218.4 L248.7,217.4 L250.4,216.5 L252.2,215.6 L254.0,214.9 L255.7,214.2 L257.5,213.6 L259.3,213.1 L261.0,212.6 L262.8,212.2 L264.6,211.8 L266.4,211.4 L268.1,211.0 L269.9,210.7 L271.7,210.5 L273.4,210.3 L275.2,210.1 L277.0,209.9 L278.7,209.8 L280.5,209.7 L282.3,209.6 L284.0,209.5 L285.8,209.5 L287.6,209.5 L289.4,209.6 L291.1,209.7 L292.9,209.9 L294.7,210.1 L296.4,210.4 L298.2,210.7 L300.0,211.0 L301.7,211.4 L303.5,211.8 L305.3,212.3 L307.0,212.8 L308.8,213.4 L310.6,214.0 L312.4,214.6 L314.1,215.3 L315.9,216.1 L317.7,216.9 L319.4,217.7 L321.2,218.6 L323.0,219.5 L324.7,220.5 L326.5,221.5 L328.3,222.6 L330.1,223.8 L331.8,225.0 L333.6,226.1 L335.4,227.2 L337.1,228.2 L338.9,229.1" stroke="rgb(185,185,185)"/>
<path d="M234.5,228.0 L236.3,226.0 L238.0,224.1 L239.8,222.3 L241.6,220.7 L243.3,219.2 L245.1,217.9 L246.9,216.7 L248.7,215.6 L250.4,214.6 L252.2,213.8 L254.0,213.0 L255.7,212.3 L257.5,211.6 L259.3,211.1 L261.0,210.5 L262.8,210.1 L264.6,209.6 L266.4,209.2 L268.1,208.9 L269.9,208.6 L271.7,208.3 L273.4,208.0 L275.2,207.8 L277.0,207.7 L278.7,207.5 L280.5,207.4 L282.3,207.3 L284.0,207.3 L285.8,207.2 L287.6,207.3 L289.4,207.3 L291.1,207.5 L292.9,207.7 L294.7,207.9 L296.4,208.2 L298.2,208.5 L300.0,208.8 L301.7,209.2 L303.5,209.7 L305.3,210.2 L307.0,210.7 L308.8,211.3 L310.6,212.0 L312.4,212.7 L314.1,213.4 L315.9,214.2 L317.7,215.0 L319.4,215.9 L321.2,216.9 L323.0,217.8 L324.7,218.9 L326.5,220.0 L328.3,221.2 L330.1,222.4 L331.8,223.7 L333.6,224.9 L335.4,226.0 L337.1,227.1 L338.9,228.0" stroke="rgb(184,184,184)"/>
<path d="M234.5,227.0 L236.3,224.9 L238.0,222.9 L239.8,221.0 L241.6,219.3 L243.3,217.7 L245.1,216.3 L246.9,215.1 L248.7,213.9 L250.4,212.9 L252.2,212.0 L254.0,211.1 L255.7,210.4 L257.5,209.7 L259.3,209.1 L261.0,208.6 L262.8,208.1 L264.6,207.6 L266.4,207.2 L268.1,206.8 L269.9,206.5 L271.7,206.2 L273.4,205.9 L275.2,205.7 L277.0,205.5 L278.7,205.4 L280.5,205.3 L282.3,205.2 L284.0,205.1 L285.8,205.1 L287.6,205.1 L289.4,205.2 L291.1,205.3 L292.9,205.5 L294.7,205.8 L296.4,206.1 L298.2,206.4 L300.0,206.8 L301.7,207.2 L303.5,207.7 L305.3,208.2 L307.0,208.8 L308.8,209.4 L310.6,210.1 L312.4,210.8 L314.1,211.6 L315.9,212.5 L317.7,213.3 L319.4,214.3 L321.2,215.2 L323.0,216.3 L324.7,217.4 L326.5,218.6 L328.3,219.8 L330.1,221.1 L331.8,222.4 L333.6,223.7 L335.4,224.9 L337.1,226.1 L338.9,227.0" stroke="rgb(183,183,183)"/>
<path d="M234.5,226.1 L236.3,223.9 L238.0,221.8 L239.8,219.8 L241.6,218.0 L243.3,216.4 L245.1,214.9 L246.9,213.6 L248.7,212.4 L250.4,211.3 L252.2,210.3 L254.0,209.5 L255.7,208.7 L257.5,208.0 L259.3,207.4 L261.0,206.8 L262.8,206.3 L264.6,205.8 L266.4,205.3 L268.1,204.9 L269.9,204.6 L271.7,204.3 L273.4,204.0 L275.2,203.8 L277.0,203.6 L278.7,203.5 L280.5,203.3 L282.3,203.2 L284.0,203.2 L285.8,203.1 L287.6,203.2 L289.4,203.2 L291.1,203.4 L292.9,203.6 L294.7,203.8 L296.4,204.1 L298.2,204.5 L300.0,204.9 L301.7,205.3 L303.5,205.8 L305.3,206.4 L307.0,207.0 L308.8,207.7 L310.6,208.4 L312.4,209.2 L314.1,210.0 L315.9,210.8 L317.7,211.8 L319.4,212.7 L321.2,213.8 L323.0,214.9 L324.7,216.0 L326.5,217.3 L328.3,218.6 L330.1,219.9 L331.8,221.3 L333.6,222.6 L335.4,223.9 L337.1,225.1 L338.9,226.1" stroke="rgb(182,182,182)"/>
<path d="M234.5,225.3 L236.3,223.0 L238.0,220.8 L239.8,218.7 L241.6,216.9 L243.3,215.2 L245.1,213.6 L246.9,212.3 L248.7,211.0 L250.4,209.9 L252.2,208.9 L254.0,208.0 L255.7,207.2 L257.5,206.4 L259.3,205.8 L261.0,205.2 L262.8,204.6 L264.6,204.1 L266.4,203.7 L268.1,203.3 L269.9,202.9 L271.7,202.6 L273.4,202.3 L275.2,202.1 L277.0,201.9 L278.7,201.7 L280.5,201.6 L282.3,201.5 L284.0,201.4 L285.8,201.4 L287.6,201.4 L289.4,201.5 L291.1,201.6 L292.9,201.9 L294.7,202.1 L296.4,202.4 L298.2,202.8 L300.0,203.2 L301.7,203.7 L303.5,204.2 L305.3,204.8 L307.0,205.4 L308.8,206.1 L310.6,206.8 L312.4,207.6 L314.1,208.5 L315.9,209.4 L317.7,210.4 L319.4,211.4 L321.2,212.4 L323.0,213.6 L324.7,214.8 L326.5,216.1 L328.3,217.4 L330.1,218.9 L331.8,220.3 L333.6,221.7 L335.4,223.0 L337.1,224.2 L338.9,225.3" stroke="rgb(181,181,181)"/>
<path d="M234.5,224.6 L236.3,222.2 L238.0,219.9 L239.8,217.8 L241.6,215.8 L243.3,214.1 L245.1,212.5 L246.9,211.1 L248.7,209.8 L250.4,208.6 L252.2,207.6 L254.0,206.6 L255.7,205.8 L257.5,205.0 L259.3,204.4 L261.0,203.7 L262.8,203.2 L264.6,202.7 L266.4,202.2 L268.1,201.8 L269.9,201.4 L271.7,201.1 L273.4,200.8 L275.2,200.5 L277.0,200.3 L278.7,200.2 L280.5,200.0 L282.3,199.9 L284.0,199.8 L285.8,199.8 L287.6,199.8 L289.4,199.9 L291.1,200.1 L292.9,200.3 L294.7,200.6 L296.4,200.9 L298.2,201.3 L300.0,201.7 L301.7,202.2 L303.5,202.7 L305.3,203.3 L307.0,204.0 L308.8,204.7 L310.6,205.5 L312.4,206.3 L314.1,207.2 L315.9,208.1 L317.7,209.1 L319.4,210.2 L321.2,211.3 L323.0,212.4 L324.7,213.7 L326.5,215.0 L328.3,216.4 L330.1,217.9 L331.8,219.4 L333.6,220.8 L335.4,222.2 L337.1,223.5 L338.9,224.6" stroke="rgb(180,180,180)"/>
<path d="M234.5,224.0 L236.3,221.4 L238.0,219.1 L239.8,216.9 L241.6,214.9 L243.3,213.1 L245.1,211.5 L246.9,210.0 L248.7,208.7 L250.4,207.5 L252.2,206.4 L254.0,205.5 L255.7,204.6 L257.5,203.8 L259.3,203.1 L261.0,202.5 L262.8,201.9 L264.6,201.4 L266.4,200.9 L268.1,200.4 L269.9,200.0 L271.7,199.7 L273.4,199.4 L275.2,199.1 L277.0,198.9 L278.7,198.8 L280.5,198.6 L282.3,198.5 L284.0,198.4 L285.8,198.4 L287.6,198.4 L289.4,198.5 L291.1,198.7 L292.9,198.9 L294.7,199.2 L296.4,199.5 L298.2,199.9 L300.0,200.4 L301.7,200.9 L303.5,201.4 L305.3,202.0 L307.0,202.7 L308.8,203.5 L310.6,204.2 L312.4,205.1 L314.1,206.0 L315.9,207.0 L317.7,208.0 L319.4,209.1 L321.2,210.2 L323.0,211.4 L324.7,212.7 L326.5,214.1 L328.3,215.6 L330.1,217.1 L331.8,218.6 L333.6,220.1 L335.4,221.5 L337.1,222.8 L338.9,224.0" stroke="rgb(179,179,179)"/>
<path d="M234.5,223.4 L236.3,220.8 L238.0,218.4 L239.8,216.1 L241.6,214.1 L243.3,212.2 L245.1,210.6 L246.9,209.1 L248.7,207.7 L250.4,206.5 L252.2,205.4 L254.0,204.4 L255.7,203.5 L257.5,202.7 L259.3,202.0 L261.0,201.3 L262.8,200.7 L264.6,200.2 L266.4,199.7 L268.1,199.2 L269.9,198.8 L271.7,198.5 L273.4,198.2 L275.2,197.9 L277.0,197.7 L278.7,197.5 L280.5,197.4 L282.3,197.3 L284.0,197.2 L285.8,197.1 L287.6,197.2 L289.4,197.3 L291.1,197.4 L292.9,197.7 L294.7,198.0 L296.4,198.3 L298.2,198.7 L300.0,199.2 L301.7,199.7 L303.5,200.2 L305.3,200.9 L307.0,201.6 L308.8,202.3 L310.6,203.1 L312.4,204.0 L314.1,204.9 L315.9,205.9 L317.7,207.0 L319.4,208.1 L321.2,209.3 L323.0,210.5 L324.7,211.8 L326.5,213.2 L328.3,214.7 L330.1,216.3 L331.8,217.9 L333.6,219.4 L335.4,220.8 L337.1,222.2 L338.9,223.4" stroke="rgb(178,178,178)"/>
<path d="M234.5,222.8 L236.3,220.2 L238.0,217.7 L239.8,215.4 L241.6,213.4 L243.3,211.5 L245.1,209.7 L246.9,208.2 L248.7,206.8 L250.4,205.5 L252.2,204.4 L254.0,203.4 L255.7,202.5 L257.5,201.7 L259.3,200.9 L261.0,200.3 L262.8,199.7 L264.6,199.1 L266.4,198.6 L268.1,198.1 L269.9,197.7 L271.7,197.3 L273.4,197.0 L275.2,196.8 L277.0,196.6 L278.7,196.4 L280.5,196.2 L282.3,196.1 L284.0,196.0 L285.8,196.0 L287.6,196.0 L289.4,196.1 L291.1,196.3 L292.9,196.5 L294.7,196.8 L296.4,197.2 L298.2,197.6 L300.0,198.0 L301.7,198.6 L303.5,199.2 L305.3,199.8 L307.0,200.5 L308.8,201.3 L310.6,202.1 L312.4,203.0 L314.1,204.0 L315.9,205.0 L317.7,206.1 L319.4,207.2 L321.2,208.4 L323.0,209.7 L324.7,211.0 L326.5,212.5 L328.3,214.0 L330.1,215.6 L331.8,217.2 L333.6,218.8 L335.4,220.3 L337.1,221.6 L338.9,222.8" stroke="rgb(176,176,176)"/>
<path d="M234.5,222.4 L236.3,219.6 L238.0,217.1 L239.8,214.8 L241.6,212.7 L243.3,210.7 L245.1,209.0 L246.9,207.4 L248.7,206.0 L250.4,204.7 L252.2,203.5 L254.0,202.5 L255.7,201.6 L257.5,200.7 L259.3,200.0 L261.0,199.3 L262.8,198.7 L264.6,198.1 L266.4,197.6 L268.1,197.1 L269.9,196.7 L271.7,196.3 L273.4,196.0 L275.2,195.7 L277.0,195.5 L278.7,195.3 L280.5,195.2 L282.3,195.1 L284.0,195.0 L285.8,194.9 L287.6,195.0 L289.4,195.1 L291.1,195.2 L292.9,195.5 L294.7,195.8 L296.4,196.1 L298.2,196.6 L300.0,197.0 L301.7,197.6 L303.5,198.2 L305.3,198.8 L307.0,199.6 L308.8,200.3 L310.6,201.2 L312.4,202.1 L314.1,203.1 L315.9,204.1 L317.7,205.2 L319.4,206.4 L321.2,207.6 L323.0,208.9 L324.7,210.3 L326.5,211.8 L328.3,213.3 L330.1,215.0 L331.8,216.6 L333.6,218.2 L335.4,219.7 L337.1,221.1 L338.9,222.4" stroke="rgb(175,175,175)"/>
<path d="M234.5,221.9 L236.3,219.1 L238.0,216.6 L239.8,214.2 L241.6,212.0 L243.3,210.0 L245.1,208.3 L246.9,206.7 L248.7,205.2 L250.4,203.9 L252.2,202.7 L254.0,201.7 L255.7,200.7 L257.5,199.9 L259.3,199.1 L261.0,198.4 L262.8,197.8 L264.6,197.2 L266.4,196.7 L268.1,196.2 L269.9,195.7 L271.7,195.4 L273.4,195.0 L275.2,194.8 L277.0,194.5 L278.7,194.4 L280.5,194.2 L282.3,194.1 L284.0,194.0 L285.8,194.0 L287.6,194.0 L289.4,194.1 L291.1,194.3 L292.9,194.5 L294.7,194.8 L296.4,195.2 L298.2,195.6 L300.0,196.1 L301.7,196.6 L303.5,197.3 L305.3,197.9 L307.0,198.7 L308.8,199.5 L310.6,200.3 L312.4,201.3 L314.1,202.3 L315.9,203.3 L317.7,204.5 L319.4,205.6 L321.2,206.9 L323.0,208.2 L324.7,209.6 L326.5,211.1 L328.3,212.7 L330.1,214.4 L331.8,216.0 L333.6,217.7 L335.4,219.2 L337.1,220.6 L338.9,221.9" stroke="rgb(174,174,174)"/>
<path d="M234.5,221.5 L236.3,218.7 L238.0,216.1 L239.8,213.7 L241.6,211.4 L243.3,209.4 L245.1,207.6 L246.9,206.0 L248.7,204.5 L250.4,203.2 L252.2,202.0 L254.0,200.9 L255.7,199.9 L257.5,199.1 L259.3,198.3 L261.0,197.6 L262.8,196.9 L264.6,196.3 L266.4,195.8 L268.1,195.3 L269.9,194.9 L271.7,194.5 L273.4,194.2 L275.2,193.9 L277.0,193.6 L278.7,193.5 L280.5,193.3 L282.3,193.2 L284.0,193.1 L285.8,193.1 L287.6,193.1 L289.4,193.2 L291.1,193.4 L292.9,193.6 L294.7,193.9 L296.4,194.3 L298.2,194.7 L300.0,195.2 L301.7,195.8 L303.5,196.4 L305.3,197.1 L307.0,197.8 L308.8,198.7 L310.6,199.6 L312.4,200.5 L314.1,201.5 L315.9,202.6 L317.7,203.7 L319.4,204.9 L321.2,206.2 L323.0,207.5 L324.7,209.0 L326.5,210.5 L328.3,212.1 L330.1,213.8 L331.8,215.5 L333.6,217.2 L335.4,218.7 L337.1,220.2 L338.9,221.5" stroke="rgb(172,172,172)"/>
<path d="M234.5,221.1 L236.3,218.2 L238.0,215.6 L239.8,213.1 L241.6,210.9 L243.3,208.8 L245.1,207.0 L246.9,205.3 L248.7,203.8 L250.4,202.5 L252.2,201.3 L254.0,200.2 L255.7,199.2 L257.5,198.3 L259.3,197.5 L261.0,196.8 L262.8,196.1 L264.6,195.5 L266.4,195.0 L268.1,194.5 L269.9,194.0 L271.7,193.7 L273.4,193.3 L275.2,193.0 L277.0,192.8 L278.7,192.6 L280.5,192.5 L282.3,192.3 L284.0,192.2 L285.8,192.2 L287.6,192.2 L289.4,192.3 L291.1,192.5 L292.9,192.8 L294.7,193.1 L296.4,193.5 L298.2,193.9 L300.0,194.4 L301.7,195.0 L303.5,195.6 L305.3,196.3 L307.0,197.1 L308.8,197.9 L310.6,198.8 L312.4,199.8 L314.1,200.8 L315.9,201.9 L317.7,203.1 L319.4,204.3 L321.2,205.6 L323.0,206.9 L324.7,208.4 L326.5,209.9 L328.3,211.6 L330.1,213.3 L331.8,215.0 L333.6,216.7 L335.4,218.3 L337.1,219.8 L338.9,221.1" stroke="rgb(170,170,170)"/>
<path d="M234.5,220.7 L236.3,217.8 L238.0,215.1 L239.8,212.6 L241.6,210.4 L243.3,208.3 L245.1,206.4 L246.9,204.7 L248.7,203.2 L250.4,201.8 L252.2,200.6 L254.0,199.5 L255.7,198.5 L257.5,197.6 L259.3,196.8 L261.0,196.1 L262.8,195.4 L264.6,194.8 L266.4,194.2 L268.1,193.7 L269.9,193.3 L271.7,192.9 L273.4,192.5 L275.2,192.3 L277.0,192.0 L278.7,191.8 L280.5,191.7 L282.3,191.5 L284.0,191.4 L285.8,191.4 L287.6,191.4 L289.4,191.6 L291.1,191.7 L292.9,192.0 L294.7,192.3 L296.4,192.7 L298.2,193.1 L300.0,193.7 L301.7,194.2 L303.5,194.9 L305.3,195.6 L307.0,196.4 L308.8,197.2 L310.6,198.1 L312.4,199.1 L314.1,200.1 L315.9,201.2 L317.7,202.4 L319.4,203.7 L321.2,205.0 L323.0,206.3 L324.7,207.8 L326.5,209.4 L328.3,211.1 L330.1,212.8 L331.8,214.6 L333.6,216.3 L335.4,217.9 L337.1,219.4 L338.9,220.7" stroke="rgb(169,169,169)"/>
<path d="M234.5,220.4 L236.3,217.4 L238.0,214.7 L239.8,212.2 L241.6,209.9 L243.3,207.8 L245.1,205.9 L246.9,204.2 L248.7,202.6 L250.4,201.2 L252.2,200.0 L254.0,198.8 L255.7,197.8 L257.5,196.9 L259.3,196.1 L261.0,195.4 L262.8,194.7 L264.6,194.1 L266.4,193.5 L268.1,193.0 L269.9,192.5 L271.7,192.1 L273.4,191.8 L275.2,191.5 L277.0,191.3 L278.7,191.1 L280.5,190.9 L282.3,190.8 L284.0,190.7 L285.8,190.7 L287.6,190.7 L289.4,190.8 L291.1,191.0 L292.9,191.3 L294.7,191.6 L296.4,192.0 L298.2,192.4 L300.0,192.9 L301.7,193.5 L303.5,194.2 L305.3,194.9 L307.0,195.7 L308.8,196.5 L310.6,197.4 L312.4,198.4 L314.1,199.5 L315.9,200.6 L317.7,201.8 L319.4,203.1 L321.2,204.4 L323.0,205.8 L324.7,207.3 L326.5,208.9 L328.3,210.6 L330.1,212.4 L331.8,214.1 L333.6,215.9 L335.4,217.5 L337.1,219.0 L338.9,220.4" stroke="rgb(167,167,167)"/>
<path d="M234.5,220.0 L236.3,217.1 L238.0,214.3 L239.8,211.7 L241.6,209.4 L243.3,207.3 L245.1,205.3 L246.9,203.6 L248.7,202.1 L250.4,200.7 L252.2,199.4 L254.0,198.2 L255.7,197.2 L257.5,196.3 L259.3,195.5 L261.0,194.7 L262.8,194.0 L264.6,193.4 L266.4,192.8 L268.1,192.3 L269.9,191.9 L271.7,191.5 L273.4,191.1 L275.2,190.8 L277.0,190.6 L278.7,190.4 L280.5,190.2 L282.3,190.1 L284.0,190.0 L285.8,189.9 L287.6,190.0 L289.4,190.1 L291.1,190.3 L292.9,190.5 L294.7,190.9 L296.4,191.3 L298.2,191.7 L300.0,192.2 L301.7,192.8 L303.5,193.5 L305.3,194.2 L307.0,195.0 L308.8,195.9 L310.6,196.8 L312.4,197.8 L314.1,198.9 L315.9,200.0 L317.7,201.2 L319.4,202.5 L321.2,203.9 L323.0,205.3 L324.7,206.8 L326.5,208.4 L328.3,210.1 L330.1,211.9 L331.8,213.7 L333.6,215.5 L335.4,217.1 L337.1,218.7 L338.9,220.0" stroke="rgb(165,165,165)"/>
<path d="M234.5,219.7 L236.3,216.7 L238.0,213.9 L239.8,211.3 L241.6,209.0 L243.3,206.8 L245.1,204.9 L246.9,203.1 L248.7,201.5 L250.4,200.1 L252.2,198.8 L254.0,197.7 L255.7,196.6 L257.5,195.7 L259.3,194.9 L261.0,194.1 L262.8,193.4 L264.6,192.8 L266.4,192.2 L268.1,191.7 L269.9,191.2 L271.7,190.8 L273.4,190.4 L275.2,190.1 L277.0,189.9 L278.7,189.7 L280.5,189.5 L282.3,189.4 L284.0,189.3 L285.8,189.3 L287.6,189.3 L289.4,189.4 L291.1,189.6 L292.9,189.9 L294.7,190.2 L296.4,190.6 L298.2,191.1 L300.0,191.6 L301.7,192.2 L303.5,192.9 L305.3,193.6 L307.0,194.4 L308.8,195.3 L310.6,196.2 L312.4,197.2 L314.1,198.3 L315.9,199.5 L317.7,200.7 L319.4,202.0 L321.2,203.3 L323.0,204.8 L324.7,206.3 L326.5,208.0 L328.3,209.7 L330.1,211.5 L331.8,213.3 L333.6,215.1 L335.4,216.8 L337.1,218.4 L338.9,219.7" stroke="rgb(164,164,164)"/>
<path d="M234.5,219.4 L236.3,216.4 L238.0,213.6 L239.8,210.9 L241.6,208.5 L243.3,206.4 L245.1,204.4 L246.9,202.6 L248.7,201.0 L250.4,199.6 L252.2,198.3 L254.0,197.1 L255.7,196.1 L257.5,195.1 L259.3,194.3 L261.0,193.5 L262.8,192.8 L264.6,192.2 L266.4,191.6 L268.1,191.0 L269.9,190.6 L271.7,190.2 L273.4,189.8 L275.2,189.5 L277.0,189.3 L278.7,189.1 L280.5,188.9 L282.3,188.7 L284.0,188.7 L285.8,188.6 L287.6,188.6 L289.4,188.8 L291.1,189.0 L292.9,189.2 L294.7,189.6 L296.4,190.0 L298.2,190.4 L300.0,191.0 L301.7,191.6 L303.5,192.2 L305.3,193.0 L307.0,193.8 L308.8,194.7 L310.6,195.7 L312.4,196.7 L314.1,197.8 L315.9,199.0 L317.7,200.2 L319.4,201.5 L321.2,202.9 L323.0,204.3 L324.7,205.9 L326.5,207.5 L328.3,209.3 L330.1,211.1 L331.8,213.0 L333.6,214.8 L335.4,216.5 L337.1,218.0 L338.9,219.4" stroke="rgb(162,162,162)"/>
<path d="M234.5,219.1 L236.3,216.1 L238.0,213.2 L239.8,210.6 L241.6,208.1 L243.3,205.9 L245.1,203.9 L246.9,202.1 L248.7,200.5 L250.4,199.1 L252.2,197.8 L254.0,196.6 L255.7,195.5 L257.5,194.6 L259.3,193.7 L261.0,192.9 L262.8,192.2 L264.6,191.6 L266.4,191.0 L268.1,190.5 L269.9,190.0 L271.7,189.6 L273.4,189.2 L275.2,188.9 L277.0,188.6 L278.7,188.4 L280.5,188.3 L282.3,188.1 L284.0,188.0 L285.8,188.0 L287.6,188.0 L289.4,188.1 L291.1,188.3 L292.9,188.6 L294.7,189.0 L296.4,189.4 L298.2,189.8 L300.0,190.4 L301.7,191.0 L303.5,191.7 L305.3,192.4 L307.0,193.2 L308.8,194.1 L310.6,195.1 L312.4,196.2 L314.1,197.3 L315.9,198.4 L317.7,199.7 L319.4,201.0 L321.2,202.4 L323.0,203.9 L324.7,205.4 L326.5,207.1 L328.3,208.9 L330.1,210.7 L331.8,212.6 L333.6,214.4 L335.4,216.1 L337.1,217.7 L338.9,219.1" stroke="rgb(160,160,160)"/>
<path d="M234.5,218.9 L236.3,215.8 L238.0,212.9 L239.8,210.2 L241.6,207.7 L243.3,205.5 L245.1,203.5 L246.9,201.7 L248.7,200.1 L250.4,198.6 L252.2,197.3 L254.0,196.1 L255.7,195.0 L257.5,194.0 L259.3,193.2 L261.0,192.4 L262.8,191.7 L264.6,191.0 L266.4,190.4 L268.1,189.9 L269.9,189.4 L271.7,189.0 L273.4,188.6 L275.2,188.3 L277.0,188.1 L278.7,187.8 L280.5,187.7 L282.3,187.5 L284.0,187.4 L285.8,187.4 L287.6,187.4 L289.4,187.6 L291.1,187.8 L292.9,188.0 L294.7,188.4 L296.4,188.8 L298.2,189.3 L300.0,189.8 L301.7,190.4 L303.5,191.1 L305.3,191.9 L307.0,192.7 L308.8,193.6 L310.6,194.6 L312.4,195.6 L314.1,196.8 L315.9,198.0 L317.7,199.2 L319.4,200.5 L321.2,201.9 L323.0,203.4 L324.7,205.0 L326.5,206.7 L328.3,208.5 L330.1,210.4 L331.8,212.3 L333.6,214.1 L335.4,215.8 L337.1,217.4 L338.9,218.9" stroke="rgb(158,158,158)"/>
<path d="M234.5,218.6 L236.3,215.5 L238.0,212.5 L239.8,209.8 L241.6,207.4 L243.3,205.1 L245.1,203.1 L246.9,201.3 L248.7,199.6 L250.4,198.1 L252.2,196.8 L254.0,195.6 L255.7,194.5 L257.5,193.5 L259.3,192.7 L261.0,191.9 L262.8,191.2 L264.6,190.5 L266.4,189.9 L268.1,189.3 L269.9,188.8 L271.7,188.4 L273.4,188.1 L275.2,187.8 L277.0,187.5 L278.7,187.3 L280.5,187.1 L282.3,187.0 L284.0,186.9 L285.8,186.8 L287.6,186.9 L289.4,187.0 L291.1,187.2 L292.9,187.5 L294.7,187.8 L296.4,188.2 L298.2,188.7 L300.0,189.3 L301.7,189.9 L303.5,190.6 L305.3,191.3 L307.0,192.2 L308.8,193.1 L310.6,194.1 L312.4,195.2 L314.1,196.3 L315.9,197.5 L317.7,198.8 L319.4,200.1 L321.2,201.5 L323.0,203.0 L324.7,204.6 L326.5,206.3 L328.3,208.2 L330.1,210.0 L331.8,211.9 L333.6,213.8 L335.4,215.5 L337.1,217.2 L338.9,218.6" stroke="rgb(156,156,156)"/>
<path d="M234.5,218.3 L236.3,215.2 L238.0,212.2 L239.8,209.5 L241.6,207.0 L243.3,204.7 L245.1,202.7 L246.9,200.8 L248.7,199.2 L250.4,197.7 L252.2,196.3 L254.0,195.1 L255.7,194.0 L257.5,193.0 L259.3,192.2 L261.0,191.4 L262.8,190.6 L264.6,190.0 L266.4,189.4 L268.1,188.8 L269.9,188.3 L271.7,187.9 L273.4,187.5 L275.2,187.2 L277.0,187.0 L278.7,186.7 L280.5,186.6 L282.3,186.4 L284.0,186.3 L285.8,186.3 L287.6,186.3 L289.4,186.4 L291.1,186.6 L292.9,186.9 L294.7,187.3 L296.4,187.7 L298.2,188.2 L300.0,188.7 L301.7,189.4 L303.5,190.1 L305.3,190.8 L307.0,191.7 L308.8,192.6 L310.6,193.6 L312.4,194.7 L314.1,195.8 L315.9,197.0 L317.7,198.3 L319.4,199.7 L321.2,201.1 L323.0,202.6 L324.7,204.2 L326.5,206.0 L328.3,207.8 L330.1,209.7 L331.8,211.6 L333.6,213.5 L335.4,215.3 L337.1,216.9 L338.9,218.3" stroke="rgb(154,154,154)"/>
<path d="M234.5,218.1 L236.3,214.9 L238.0,211.9 L239.8,209.2 L241.6,206.7 L243.3,204.4 L245.1,202.3 L246.9,200.4 L248.7,198.8 L250.4,197.3 L252.2,195.9 L254.0,194.7 L255.7,193.6 L257.5,192.6 L259.3,191.7 L261.0,190.9 L262.8,190.2 L264.6,189.5 L266.4,188.9 L268.1,188.3 L269.9,187.8 L271.7,187.4 L273.4,187.0 L275.2,186.7 L277.0,186.4 L278.7,186.2 L280.5,186.0 L282.3,185.9 L284.0,185.8 L285.8,185.8 L287.6,185.8 L289.4,185.9 L291.1,186.1 L292.9,186.4 L294.7,186.8 L296.4,187.2 L298.2,187.7 L300.0,188.2 L301.7,188.9 L303.5,189.6 L305.3,190.3 L307.0,191.2 L308.8,192.1 L310.6,193.1 L312.4,194.2 L314.1,195.4 L315.9,196.6 L317.7,197.9 L319.4,199.3 L321.2,200.7 L323.0,202.2 L324.7,203.9 L326.5,205.6 L328.3,207.5 L330.1,209.4 L331.8,211.3 L333.6,213.2 L335.4,215.0 L337.1,216.6 L338.9,218.1" stroke="rgb(151,151,151)"/>
<path d="M234.5,217.9 L236.3,214.6 L238.0,211.6 L239.8,208.9 L241.6,206.3 L243.3,204.0 L245.1,201.9 L246.9,200.1 L248.7,198.4 L250.4,196.9 L252.2,195.5 L254.0,194.2 L255.7,193.1 L257.5,192.1 L259.3,191.2 L261.0,190.4 L262.8,189.7 L264.6,189.0 L266.4,188.4 L268.1,187.8 L269.9,187.3 L271.7,186.9 L273.4,186.5 L275.2,186.2 L277.0,185.9 L278.7,185.7 L280.5,185.5 L282.3,185.4 L284.0,185.3 L285.8,185.2 L287.6,185.3 L289.4,185.4 L291.1,185.6 L292.9,185.9 L294.7,186.2 L296.4,186.7 L298.2,187.2 L300.0,187.7 L301.7,188.4 L303.5,189.1 L305.3,189.9 L307.0,190.7 L308.8,191.7 L310.6,192.7 L312.4,193.8 L314.1,194.9 L315.9,196.2 L317.7,197.5 L319.4,198.9 L321.2,200.3 L323.0,201.9 L324.7,203.5 L326.5,205.3 L328.3,207.1 L330.1,209.1 L331.8,211.0 L333.6,212.9 L335.4,214.7 L337.1,216.4 L338.9,217.9" stroke="rgb(149,149,149)"/>
</g>
<path d="M234.5,218.6 L236.3,215.3 L238.0,212.1 L239.8,209.3 L241.6,206.6 L243.3,204.2 L245.1,202.1 L246.9,200.1 L248.7,198.4 L250.4,196.8 L252.2,195.4 L254.0,194.1 L255.7,192.9 L257.5,191.9 L259.3,191.0 L261.0,190.1 L262.8,189.4 L264.6,188.6 L266.4,188.0 L268.1,187.4 L269.9,186.9 L271.7,186.4 L273.4,186.1 L275.2,185.7 L277.0,185.4 L278.7,185.2 L280.5,185.0 L282.3,184.9 L284.0,184.8 L285.8,184.7 L287.6,184.8 L289.4,184.9 L291.1,185.1 L292.9,185.4 L294.7,185.8 L296.4,186.2 L298.2,186.7 L300.0,187.3 L301.7,188.0 L303.5,188.7 L305.3,189.6 L307.0,190.5 L308.8,191.4 L310.6,192.5 L312.4,193.6 L314.1,194.8 L315.9,196.1 L317.7,197.5 L319.4,198.9 L321.2,200.4 L323.0,202.0 L324.7,203.7 L326.5,205.5 L328.3,207.5 L330.1,209.5 L331.8,211.5 L333.6,213.5 L335.4,215.3 L337.1,217.1 L338.9,218.6" stroke="#7e3414" stroke-width="2.3" fill="none" stroke-linecap="butt"/>
<rect x="221.6" y="159.5" width="124.30" height="88.25" stroke="#2b2b2b" stroke-width="0.8" fill="none"/>
<path d="M242.32,247.75 V246.55 M242.32,159.5 V160.7" stroke="#2b2b2b" stroke-width="0.75"/>
<text x="242.32" y="263.30" font-size="11.5" fill="#1a1a1a" text-anchor="middle" >-100</text>
<path d="M283.75,247.75 V246.55 M283.75,159.5 V160.7" stroke="#2b2b2b" stroke-width="0.75"/>
<text x="283.75" y="263.30" font-size="11.5" fill="#1a1a1a" text-anchor="middle" >0</text>
<path d="M325.18,247.75 V246.55 M325.18,159.5 V160.7" stroke="#2b2b2b" stroke-width="0.75"/>
<text x="325.18" y="263.30" font-size="11.5" fill="#1a1a1a" text-anchor="middle" >100</text>
<path d="M221.6,247.75 H222.79999999999998 M345.9,247.75 H344.7" stroke="#2b2b2b" stroke-width="0.75"/>
<text x="216.80" y="251.45" font-size="11.5" fill="#1a1a1a" text-anchor="end" >0</text>
<path d="M221.6,212.45 H222.79999999999998 M345.9,212.45 H344.7" stroke="#2b2b2b" stroke-width="0.75"/>
<text x="216.80" y="216.15" font-size="11.5" fill="#1a1a1a" text-anchor="end" >20</text>
<path d="M221.6,177.15 H222.79999999999998 M345.9,177.15 H344.7" stroke="#2b2b2b" stroke-width="0.75"/>
<text x="216.80" y="180.85" font-size="11.5" fill="#1a1a1a" text-anchor="end" >40</text>
<text x="243.76" y="276.70" font-size="11.3" fill="#1a1a1a" textLength="49.87" lengthAdjust="spacingAndGlyphs">x-position</text>
<text x="297.70" y="276.70" font-size="11.3" fill="#1a1a1a" textLength="25.69" lengthAdjust="spacingAndGlyphs">[mm]</text>
<text transform="translate(198.55,254.95) rotate(-90)" x="0" y="0" font-size="12" fill="#1a1a1a" textLength="72.68" lengthAdjust="spacingAndGlyphs" >z-displacement</text>
<text transform="translate(198.55,176.72) rotate(-90)" x="0" y="0" font-size="12" fill="#1a1a1a" textLength="24.86" lengthAdjust="spacingAndGlyphs" >[mm]</text>
<g fill="none" stroke-width="0.7">
<path d="M422.1,244.6 L423.8,244.6 L425.5,244.5 L427.1,244.4 L428.8,244.4 L430.5,244.3 L432.2,244.3 L433.9,244.2 L435.5,244.2 L437.2,244.1 L438.9,244.1 L440.6,244.0 L442.3,244.0 L443.9,244.0 L445.6,243.9 L447.3,243.9 L449.0,243.9 L450.7,243.9 L452.3,243.8 L454.0,243.8 L455.7,243.8 L457.4,243.7 L459.1,243.7 L460.7,243.7 L462.4,243.6 L464.1,243.6 L465.8,243.6 L467.5,243.6 L469.1,243.6 L470.8,243.6 L472.5,243.6 L474.2,243.6 L475.8,243.6 L477.5,243.6 L479.2,243.6 L480.9,243.6 L482.6,243.7 L484.2,243.7 L485.9,243.8 L487.6,243.8 L489.3,243.9 L491.0,243.9 L492.6,244.0 L494.3,244.0 L496.0,244.1 L497.7,244.1 L499.4,244.2 L501.0,244.2 L502.7,244.3 L504.4,244.3 L506.1,244.4 L507.8,244.5 L509.4,244.5 L511.1,244.6 L512.8,244.6 L514.5,244.7 L516.2,244.7 L517.8,244.8 L519.5,244.8 L521.2,244.9" stroke="rgb(192,192,192)"/>
<path d="M422.1,243.3 L423.8,243.2 L425.5,243.1 L427.1,242.9 L428.8,242.8 L430.5,242.7 L432.2,242.6 L433.9,242.5 L435.5,242.4 L437.2,242.3 L438.9,242.2 L440.6,242.1 L442.3,242.1 L443.9,242.0 L445.6,241.9 L447.3,241.9 L449.0,241.8 L450.7,241.8 L452.3,241.7 L454.0,241.6 L455.7,241.6 L457.4,241.5 L459.1,241.4 L460.7,241.4 L462.4,241.3 L464.1,241.3 L465.8,241.2 L467.5,241.2 L469.1,241.2 L470.8,241.2 L472.5,241.2 L474.2,241.2 L475.8,241.2 L477.5,241.2 L479.2,241.3 L480.9,241.3 L482.6,241.4 L484.2,241.5 L485.9,241.6 L487.6,241.7 L489.3,241.8 L491.0,241.9 L492.6,242.0 L494.3,242.1 L496.0,242.2 L497.7,242.3 L499.4,242.4 L501.0,242.5 L502.7,242.6 L504.4,242.7 L506.1,242.8 L507.8,243.0 L509.4,243.1 L511.1,243.2 L512.8,243.3 L514.5,243.4 L516.2,243.5 L517.8,243.6 L519.5,243.7 L521.2,243.9" stroke="rgb(192,192,192)"/>
<path d="M422.1,242.0 L423.8,241.8 L425.5,241.6 L427.1,241.4 L428.8,241.3 L430.5,241.1 L432.2,241.0 L433.9,240.8 L435.5,240.6 L437.2,240.5 L438.9,240.4 L440.6,240.2 L442.3,240.1 L443.9,240.0 L445.6,239.9 L447.3,239.8 L449.0,239.8 L450.7,239.7 L452.3,239.6 L454.0,239.5 L455.7,239.4 L457.4,239.3 L459.1,239.2 L460.7,239.1 L462.4,239.0 L464.1,238.9 L465.8,238.9 L467.5,238.8 L469.1,238.8 L470.8,238.8 L472.5,238.8 L474.2,238.8 L475.8,238.8 L477.5,238.9 L479.2,238.9 L480.9,239.0 L482.6,239.2 L484.2,239.3 L485.9,239.4 L487.6,239.6 L489.3,239.7 L491.0,239.9 L492.6,240.0 L494.3,240.2 L496.0,240.3 L497.7,240.5 L499.4,240.7 L501.0,240.8 L502.7,241.0 L504.4,241.1 L506.1,241.3 L507.8,241.5 L509.4,241.6 L511.1,241.8 L512.8,241.9 L514.5,242.1 L516.2,242.2 L517.8,242.4 L519.5,242.6 L521.2,242.8" stroke="rgb(192,192,192)"/>
<path d="M422.1,240.7 L423.8,240.4 L425.5,240.2 L427.1,239.9 L428.8,239.7 L430.5,239.5 L432.2,239.3 L433.9,239.1 L435.5,238.9 L437.2,238.7 L438.9,238.5 L440.6,238.3 L442.3,238.2 L443.9,238.0 L445.6,237.9 L447.3,237.8 L449.0,237.7 L450.7,237.6 L452.3,237.5 L454.0,237.3 L455.7,237.2 L457.4,237.0 L459.1,236.9 L460.7,236.8 L462.4,236.7 L464.1,236.6 L465.8,236.5 L467.5,236.5 L469.1,236.4 L470.8,236.4 L472.5,236.4 L474.2,236.4 L475.8,236.5 L477.5,236.5 L479.2,236.6 L480.9,236.7 L482.6,236.9 L484.2,237.1 L485.9,237.2 L487.6,237.4 L489.3,237.6 L491.0,237.8 L492.6,238.0 L494.3,238.3 L496.0,238.5 L497.7,238.7 L499.4,238.9 L501.0,239.1 L502.7,239.3 L504.4,239.5 L506.1,239.7 L507.8,240.0 L509.4,240.2 L511.1,240.4 L512.8,240.6 L514.5,240.8 L516.2,241.0 L517.8,241.2 L519.5,241.5 L521.2,241.8" stroke="rgb(192,192,192)"/>
<path d="M422.1,239.3 L423.8,239.0 L425.5,238.7 L427.1,238.4 L428.8,238.2 L430.5,237.9 L432.2,237.6 L433.9,237.4 L435.5,237.1 L437.2,236.9 L438.9,236.6 L440.6,236.4 L442.3,236.2 L443.9,236.1 L445.6,235.9 L447.3,235.8 L449.0,235.6 L450.7,235.5 L452.3,235.3 L454.0,235.2 L455.7,235.0 L457.4,234.8 L459.1,234.7 L460.7,234.5 L462.4,234.3 L464.1,234.2 L465.8,234.1 L467.5,234.1 L469.1,234.1 L470.8,234.0 L472.5,234.0 L474.2,234.1 L475.8,234.1 L477.5,234.1 L479.2,234.3 L480.9,234.4 L482.6,234.6 L484.2,234.8 L485.9,235.1 L487.6,235.3 L489.3,235.5 L491.0,235.8 L492.6,236.1 L494.3,236.3 L496.0,236.6 L497.7,236.9 L499.4,237.1 L501.0,237.4 L502.7,237.7 L504.4,237.9 L506.1,238.2 L507.8,238.5 L509.4,238.7 L511.1,239.0 L512.8,239.2 L514.5,239.5 L516.2,239.8 L517.8,240.1 L519.5,240.4 L521.2,240.7" stroke="rgb(192,192,192)"/>
<path d="M422.1,238.0 L423.8,237.6 L425.5,237.3 L427.1,236.9 L428.8,236.6 L430.5,236.3 L432.2,236.0 L433.9,235.7 L435.5,235.3 L437.2,235.1 L438.9,234.8 L440.6,234.5 L442.3,234.3 L443.9,234.1 L445.6,233.9 L447.3,233.7 L449.0,233.6 L450.7,233.4 L452.3,233.2 L454.0,233.0 L455.7,232.8 L457.4,232.6 L459.1,232.4 L460.7,232.2 L462.4,232.0 L464.1,231.9 L465.8,231.8 L467.5,231.7 L469.1,231.7 L470.8,231.7 L472.5,231.7 L474.2,231.7 L475.8,231.7 L477.5,231.8 L479.2,231.9 L480.9,232.1 L482.6,232.4 L484.2,232.6 L485.9,232.9 L487.6,233.2 L489.3,233.5 L491.0,233.8 L492.6,234.1 L494.3,234.4 L496.0,234.7 L497.7,235.1 L499.4,235.4 L501.0,235.7 L502.7,236.0 L504.4,236.3 L506.1,236.6 L507.8,237.0 L509.4,237.3 L511.1,237.6 L512.8,237.9 L514.5,238.2 L516.2,238.5 L517.8,238.9 L519.5,239.3 L521.2,239.7" stroke="rgb(191,191,191)"/>
<path d="M422.1,236.7 L423.8,236.3 L425.5,235.8 L427.1,235.4 L428.8,235.1 L430.5,234.7 L432.2,234.3 L433.9,233.9 L435.5,233.6 L437.2,233.2 L438.9,232.9 L440.6,232.6 L442.3,232.4 L443.9,232.1 L445.6,231.9 L447.3,231.7 L449.0,231.5 L450.7,231.3 L452.3,231.1 L454.0,230.9 L455.7,230.6 L457.4,230.4 L459.1,230.1 L460.7,229.9 L462.4,229.7 L464.1,229.5 L465.8,229.4 L467.5,229.3 L469.1,229.3 L470.8,229.3 L472.5,229.3 L474.2,229.3 L475.8,229.3 L477.5,229.4 L479.2,229.6 L480.9,229.8 L482.6,230.1 L484.2,230.4 L485.9,230.7 L487.6,231.0 L489.3,231.4 L491.0,231.7 L492.6,232.1 L494.3,232.5 L496.0,232.9 L497.7,233.2 L499.4,233.6 L501.0,234.0 L502.7,234.3 L504.4,234.7 L506.1,235.1 L507.8,235.5 L509.4,235.8 L511.1,236.2 L512.8,236.6 L514.5,236.9 L516.2,237.3 L517.8,237.7 L519.5,238.1 L521.2,238.6" stroke="rgb(191,191,191)"/>
<path d="M422.1,235.4 L423.8,234.9 L425.5,234.4 L427.1,233.9 L428.8,233.5 L430.5,233.1 L432.2,232.6 L433.9,232.2 L435.5,231.8 L437.2,231.4 L438.9,231.1 L440.6,230.7 L442.3,230.4 L443.9,230.1 L445.6,229.9 L447.3,229.7 L449.0,229.4 L450.7,229.2 L452.3,229.0 L454.0,228.7 L455.7,228.4 L457.4,228.1 L459.1,227.9 L460.7,227.6 L462.4,227.4 L464.1,227.2 L465.8,227.1 L467.5,227.0 L469.1,226.9 L470.8,226.9 L472.5,226.9 L474.2,226.9 L475.8,227.0 L477.5,227.1 L479.2,227.2 L480.9,227.5 L482.6,227.8 L484.2,228.2 L485.9,228.5 L487.6,228.9 L489.3,229.3 L491.0,229.7 L492.6,230.1 L494.3,230.6 L496.0,231.0 L497.7,231.4 L499.4,231.9 L501.0,232.3 L502.7,232.7 L504.4,233.1 L506.1,233.5 L507.8,234.0 L509.4,234.4 L511.1,234.8 L512.8,235.2 L514.5,235.6 L516.2,236.1 L517.8,236.5 L519.5,237.0 L521.2,237.6" stroke="rgb(191,191,191)"/>
<path d="M422.1,234.0 L423.8,233.5 L425.5,233.0 L427.1,232.4 L428.8,231.9 L430.5,231.5 L432.2,231.0 L433.9,230.5 L435.5,230.0 L437.2,229.6 L438.9,229.2 L440.6,228.8 L442.3,228.5 L443.9,228.2 L445.6,227.9 L447.3,227.6 L449.0,227.4 L450.7,227.1 L452.3,226.8 L454.0,226.6 L455.7,226.2 L457.4,225.9 L459.1,225.6 L460.7,225.3 L462.4,225.1 L464.1,224.9 L465.8,224.7 L467.5,224.6 L469.1,224.5 L470.8,224.5 L472.5,224.5 L474.2,224.5 L475.8,224.6 L477.5,224.7 L479.2,224.9 L480.9,225.2 L482.6,225.6 L484.2,225.9 L485.9,226.3 L487.6,226.8 L489.3,227.2 L491.0,227.7 L492.6,228.2 L494.3,228.7 L496.0,229.1 L497.7,229.6 L499.4,230.1 L501.0,230.6 L502.7,231.0 L504.4,231.5 L506.1,232.0 L507.8,232.5 L509.4,233.0 L511.1,233.4 L512.8,233.9 L514.5,234.4 L516.2,234.8 L517.8,235.4 L519.5,235.9 L521.2,236.5" stroke="rgb(190,190,190)"/>
<path d="M422.1,232.7 L423.8,232.1 L425.5,231.5 L427.1,230.9 L428.8,230.4 L430.5,229.8 L432.2,229.3 L433.9,228.8 L435.5,228.3 L437.2,227.8 L438.9,227.3 L440.6,226.9 L442.3,226.5 L443.9,226.2 L445.6,225.9 L447.3,225.6 L449.0,225.3 L450.7,225.0 L452.3,224.7 L454.0,224.4 L455.7,224.1 L457.4,223.7 L459.1,223.4 L460.7,223.0 L462.4,222.7 L464.1,222.5 L465.8,222.3 L467.5,222.2 L469.1,222.2 L470.8,222.1 L472.5,222.1 L474.2,222.2 L475.8,222.2 L477.5,222.3 L479.2,222.6 L480.9,222.9 L482.6,223.3 L484.2,223.7 L485.9,224.2 L487.6,224.6 L489.3,225.1 L491.0,225.7 L492.6,226.2 L494.3,226.7 L496.0,227.3 L497.7,227.8 L499.4,228.3 L501.0,228.9 L502.7,229.4 L504.4,229.9 L506.1,230.4 L507.8,231.0 L509.4,231.5 L511.1,232.0 L512.8,232.5 L514.5,233.1 L516.2,233.6 L517.8,234.2 L519.5,234.8 L521.2,235.5" stroke="rgb(190,190,190)"/>
<path d="M422.1,231.4 L423.8,230.7 L425.5,230.1 L427.1,229.4 L428.8,228.8 L430.5,228.2 L432.2,227.6 L433.9,227.1 L435.5,226.5 L437.2,226.0 L438.9,225.5 L440.6,225.0 L442.3,224.6 L443.9,224.2 L445.6,223.9 L447.3,223.6 L449.0,223.2 L450.7,222.9 L452.3,222.6 L454.0,222.2 L455.7,221.9 L457.4,221.5 L459.1,221.1 L460.7,220.7 L462.4,220.4 L464.1,220.2 L465.8,220.0 L467.5,219.9 L469.1,219.8 L470.8,219.8 L472.5,219.8 L474.2,219.8 L475.8,219.8 L477.5,220.0 L479.2,220.2 L480.9,220.6 L482.6,221.0 L484.2,221.5 L485.9,222.0 L487.6,222.5 L489.3,223.1 L491.0,223.6 L492.6,224.2 L494.3,224.8 L496.0,225.4 L497.7,226.0 L499.4,226.6 L501.0,227.1 L502.7,227.7 L504.4,228.3 L506.1,228.9 L507.8,229.5 L509.4,230.1 L511.1,230.6 L512.8,231.2 L514.5,231.8 L516.2,232.4 L517.8,233.0 L519.5,233.7 L521.2,234.4" stroke="rgb(189,189,189)"/>
<path d="M422.1,230.1 L423.8,229.3 L425.5,228.6 L427.1,227.9 L428.8,227.3 L430.5,226.6 L432.2,226.0 L433.9,225.4 L435.5,224.7 L437.2,224.2 L438.9,223.6 L440.6,223.1 L442.3,222.6 L443.9,222.2 L445.6,221.9 L447.3,221.5 L449.0,221.2 L450.7,220.8 L452.3,220.5 L454.0,220.1 L455.7,219.7 L457.4,219.2 L459.1,218.8 L460.7,218.4 L462.4,218.1 L464.1,217.8 L465.8,217.6 L467.5,217.5 L469.1,217.4 L470.8,217.4 L472.5,217.4 L474.2,217.4 L475.8,217.5 L477.5,217.6 L479.2,217.9 L480.9,218.3 L482.6,218.8 L484.2,219.3 L485.9,219.8 L487.6,220.4 L489.3,221.0 L491.0,221.6 L492.6,222.2 L494.3,222.9 L496.0,223.5 L497.7,224.2 L499.4,224.8 L501.0,225.4 L502.7,226.1 L504.4,226.7 L506.1,227.3 L507.8,228.0 L509.4,228.6 L511.1,229.3 L512.8,229.9 L514.5,230.5 L516.2,231.1 L517.8,231.8 L519.5,232.6 L521.2,233.4" stroke="rgb(188,188,188)"/>
<path d="M422.1,228.7 L423.8,228.0 L425.5,227.2 L427.1,226.4 L428.8,225.7 L430.5,225.0 L432.2,224.3 L433.9,223.6 L435.5,223.0 L437.2,222.3 L438.9,221.7 L440.6,221.2 L442.3,220.7 L443.9,220.3 L445.6,219.9 L447.3,219.5 L449.0,219.1 L450.7,218.7 L452.3,218.3 L454.0,217.9 L455.7,217.5 L457.4,217.0 L459.1,216.6 L460.7,216.2 L462.4,215.8 L464.1,215.5 L465.8,215.3 L467.5,215.1 L469.1,215.0 L470.8,215.0 L472.5,215.0 L474.2,215.0 L475.8,215.1 L477.5,215.3 L479.2,215.6 L480.9,216.0 L482.6,216.5 L484.2,217.1 L485.9,217.6 L487.6,218.3 L489.3,218.9 L491.0,219.6 L492.6,220.3 L494.3,221.0 L496.0,221.7 L497.7,222.4 L499.4,223.0 L501.0,223.7 L502.7,224.4 L504.4,225.1 L506.1,225.8 L507.8,226.5 L509.4,227.2 L511.1,227.9 L512.8,228.5 L514.5,229.2 L516.2,229.9 L517.8,230.7 L519.5,231.5 L521.2,232.3" stroke="rgb(188,188,188)"/>
<path d="M422.1,227.4 L423.8,226.6 L425.5,225.7 L427.1,224.9 L428.8,224.2 L430.5,223.4 L432.2,222.6 L433.9,221.9 L435.5,221.2 L437.2,220.5 L438.9,219.9 L440.6,219.3 L442.3,218.8 L443.9,218.3 L445.6,217.9 L447.3,217.5 L449.0,217.1 L450.7,216.6 L452.3,216.2 L454.0,215.8 L455.7,215.3 L457.4,214.8 L459.1,214.3 L460.7,213.9 L462.4,213.5 L464.1,213.1 L465.8,212.9 L467.5,212.7 L469.1,212.7 L470.8,212.6 L472.5,212.6 L474.2,212.6 L475.8,212.7 L477.5,212.9 L479.2,213.2 L480.9,213.7 L482.6,214.2 L484.2,214.8 L485.9,215.5 L487.6,216.1 L489.3,216.8 L491.0,217.5 L492.6,218.3 L494.3,219.0 L496.0,219.8 L497.7,220.5 L499.4,221.3 L501.0,222.0 L502.7,222.7 L504.4,223.5 L506.1,224.2 L507.8,225.0 L509.4,225.7 L511.1,226.5 L512.8,227.2 L514.5,227.9 L516.2,228.7 L517.8,229.5 L519.5,230.3 L521.2,231.3" stroke="rgb(187,187,187)"/>
<path d="M422.1,226.1 L423.8,225.2 L425.5,224.3 L427.1,223.4 L428.8,222.6 L430.5,221.8 L432.2,221.0 L433.9,220.2 L435.5,219.4 L437.2,218.7 L438.9,218.0 L440.6,217.4 L442.3,216.8 L443.9,216.3 L445.6,215.9 L447.3,215.4 L449.0,215.0 L450.7,214.6 L452.3,214.1 L454.0,213.6 L455.7,213.1 L457.4,212.6 L459.1,212.1 L460.7,211.6 L462.4,211.1 L464.1,210.8 L465.8,210.5 L467.5,210.4 L469.1,210.3 L470.8,210.2 L472.5,210.2 L474.2,210.3 L475.8,210.4 L477.5,210.5 L479.2,210.9 L480.9,211.4 L482.6,212.0 L484.2,212.6 L485.9,213.3 L487.6,214.0 L489.3,214.7 L491.0,215.5 L492.6,216.3 L494.3,217.1 L496.0,217.9 L497.7,218.7 L499.4,219.5 L501.0,220.3 L502.7,221.1 L504.4,221.9 L506.1,222.7 L507.8,223.5 L509.4,224.3 L511.1,225.1 L512.8,225.8 L514.5,226.6 L516.2,227.4 L517.8,228.3 L519.5,229.2 L521.2,230.2" stroke="rgb(186,186,186)"/>
<path d="M422.1,224.8 L423.8,223.8 L425.5,222.9 L427.1,221.9 L428.8,221.0 L430.5,220.2 L432.2,219.3 L433.9,218.5 L435.5,217.7 L437.2,216.9 L438.9,216.2 L440.6,215.5 L442.3,214.9 L443.9,214.3 L445.6,213.9 L447.3,213.4 L449.0,212.9 L450.7,212.5 L452.3,212.0 L454.0,211.5 L455.7,210.9 L457.4,210.3 L459.1,209.8 L460.7,209.3 L462.4,208.8 L464.1,208.4 L465.8,208.2 L467.5,208.0 L469.1,207.9 L470.8,207.9 L472.5,207.9 L474.2,207.9 L475.8,208.0 L477.5,208.2 L479.2,208.5 L480.9,209.1 L482.6,209.7 L484.2,210.4 L485.9,211.1 L487.6,211.9 L489.3,212.7 L491.0,213.5 L492.6,214.3 L494.3,215.2 L496.0,216.1 L497.7,216.9 L499.4,217.8 L501.0,218.6 L502.7,219.4 L504.4,220.3 L506.1,221.1 L507.8,222.0 L509.4,222.9 L511.1,223.7 L512.8,224.5 L514.5,225.3 L516.2,226.2 L517.8,227.1 L519.5,228.1 L521.2,229.2" stroke="rgb(185,185,185)"/>
<path d="M422.1,223.5 L423.8,222.4 L425.5,221.4 L427.1,220.5 L428.8,219.5 L430.5,218.6 L432.2,217.7 L433.9,216.8 L435.5,215.9 L437.2,215.1 L438.9,214.3 L440.6,213.6 L442.3,212.9 L443.9,212.4 L445.6,211.9 L447.3,211.4 L449.0,210.9 L450.7,210.4 L452.3,209.9 L454.0,209.3 L455.7,208.7 L457.4,208.1 L459.1,207.5 L460.7,207.0 L462.4,206.5 L464.1,206.1 L465.8,205.8 L467.5,205.6 L469.1,205.5 L470.8,205.5 L472.5,205.5 L474.2,205.5 L475.8,205.6 L477.5,205.8 L479.2,206.2 L480.9,206.8 L482.6,207.4 L484.2,208.2 L485.9,208.9 L487.6,209.7 L489.3,210.6 L491.0,211.5 L492.6,212.4 L494.3,213.3 L496.0,214.2 L497.7,215.1 L499.4,216.0 L501.0,216.9 L502.7,217.8 L504.4,218.7 L506.1,219.6 L507.8,220.5 L509.4,221.4 L511.1,222.3 L512.8,223.2 L514.5,224.1 L516.2,225.0 L517.8,226.0 L519.5,227.0 L521.2,228.1" stroke="rgb(184,184,184)"/>
<path d="M422.1,222.2 L423.8,221.1 L425.5,220.1 L427.1,219.0 L428.8,218.0 L430.5,217.1 L432.2,216.1 L433.9,215.2 L435.5,214.3 L437.2,213.4 L438.9,212.5 L440.6,211.8 L442.3,211.1 L443.9,210.5 L445.6,210.0 L447.3,209.4 L449.0,208.9 L450.7,208.4 L452.3,207.9 L454.0,207.3 L455.7,206.7 L457.4,206.0 L459.1,205.4 L460.7,204.8 L462.4,204.3 L464.1,203.9 L465.8,203.6 L467.5,203.4 L469.1,203.3 L470.8,203.3 L472.5,203.3 L474.2,203.3 L475.8,203.4 L477.5,203.6 L479.2,204.0 L480.9,204.6 L482.6,205.3 L484.2,206.1 L485.9,206.9 L487.6,207.7 L489.3,208.6 L491.0,209.6 L492.6,210.5 L494.3,211.5 L496.0,212.4 L497.7,213.4 L499.4,214.3 L501.0,215.3 L502.7,216.2 L504.4,217.2 L506.1,218.1 L507.8,219.1 L509.4,220.1 L511.1,221.0 L512.8,221.9 L514.5,222.9 L516.2,223.8 L517.8,224.8 L519.5,226.0 L521.2,227.2" stroke="rgb(183,183,183)"/>
<path d="M422.1,221.1 L423.8,219.9 L425.5,218.8 L427.1,217.7 L428.8,216.7 L430.5,215.7 L432.2,214.7 L433.9,213.7 L435.5,212.7 L437.2,211.8 L438.9,210.9 L440.6,210.1 L442.3,209.4 L443.9,208.8 L445.6,208.2 L447.3,207.7 L449.0,207.2 L450.7,206.6 L452.3,206.0 L454.0,205.4 L455.7,204.8 L457.4,204.1 L459.1,203.5 L460.7,202.9 L462.4,202.3 L464.1,201.9 L465.8,201.6 L467.5,201.4 L469.1,201.2 L470.8,201.2 L472.5,201.2 L474.2,201.2 L475.8,201.3 L477.5,201.6 L479.2,202.0 L480.9,202.6 L482.6,203.4 L484.2,204.2 L485.9,205.0 L487.6,205.9 L489.3,206.8 L491.0,207.8 L492.6,208.8 L494.3,209.8 L496.0,210.8 L497.7,211.8 L499.4,212.8 L501.0,213.8 L502.7,214.8 L504.4,215.8 L506.1,216.8 L507.8,217.8 L509.4,218.8 L511.1,219.8 L512.8,220.8 L514.5,221.7 L516.2,222.8 L517.8,223.8 L519.5,225.0 L521.2,226.2" stroke="rgb(182,182,182)"/>
<path d="M422.1,220.1 L423.8,218.9 L425.5,217.7 L427.1,216.6 L428.8,215.5 L430.5,214.4 L432.2,213.4 L433.9,212.4 L435.5,211.4 L437.2,210.4 L438.9,209.5 L440.6,208.7 L442.3,207.9 L443.9,207.3 L445.6,206.7 L447.3,206.1 L449.0,205.6 L450.7,205.0 L452.3,204.4 L454.0,203.8 L455.7,203.1 L457.4,202.4 L459.1,201.7 L460.7,201.1 L462.4,200.5 L464.1,200.1 L465.8,199.7 L467.5,199.5 L469.1,199.4 L470.8,199.4 L472.5,199.4 L474.2,199.4 L475.8,199.5 L477.5,199.8 L479.2,200.2 L480.9,200.8 L482.6,201.6 L484.2,202.5 L485.9,203.3 L487.6,204.3 L489.3,205.2 L491.0,206.2 L492.6,207.3 L494.3,208.3 L496.0,209.4 L497.7,210.4 L499.4,211.5 L501.0,212.5 L502.7,213.5 L504.4,214.6 L506.1,215.6 L507.8,216.7 L509.4,217.7 L511.1,218.7 L512.8,219.7 L514.5,220.8 L516.2,221.8 L517.8,222.9 L519.5,224.1 L521.2,225.4" stroke="rgb(181,181,181)"/>
<path d="M422.1,219.2 L423.8,217.9 L425.5,216.7 L427.1,215.6 L428.8,214.4 L430.5,213.3 L432.2,212.2 L433.9,211.2 L435.5,210.2 L437.2,209.2 L438.9,208.2 L440.6,207.4 L442.3,206.6 L443.9,205.9 L445.6,205.3 L447.3,204.7 L449.0,204.2 L450.7,203.6 L452.3,202.9 L454.0,202.3 L455.7,201.6 L457.4,200.9 L459.1,200.2 L460.7,199.5 L462.4,199.0 L464.1,198.5 L465.8,198.1 L467.5,197.9 L469.1,197.8 L470.8,197.7 L472.5,197.7 L474.2,197.8 L475.8,197.9 L477.5,198.1 L479.2,198.6 L480.9,199.3 L482.6,200.1 L484.2,200.9 L485.9,201.8 L487.6,202.8 L489.3,203.8 L491.0,204.9 L492.6,205.9 L494.3,207.0 L496.0,208.1 L497.7,209.2 L499.4,210.3 L501.0,211.3 L502.7,212.4 L504.4,213.5 L506.1,214.6 L507.8,215.6 L509.4,216.7 L511.1,217.8 L512.8,218.8 L514.5,219.9 L516.2,221.0 L517.8,222.1 L519.5,223.4 L521.2,224.7" stroke="rgb(180,180,180)"/>
<path d="M422.1,218.3 L423.8,217.1 L425.5,215.8 L427.1,214.6 L428.8,213.5 L430.5,212.3 L432.2,211.2 L433.9,210.1 L435.5,209.1 L437.2,208.1 L438.9,207.1 L440.6,206.2 L442.3,205.4 L443.9,204.7 L445.6,204.1 L447.3,203.5 L449.0,202.9 L450.7,202.3 L452.3,201.6 L454.0,201.0 L455.7,200.3 L457.4,199.5 L459.1,198.8 L460.7,198.1 L462.4,197.5 L464.1,197.0 L465.8,196.7 L467.5,196.4 L469.1,196.3 L470.8,196.3 L472.5,196.3 L474.2,196.3 L475.8,196.4 L477.5,196.7 L479.2,197.2 L480.9,197.8 L482.6,198.7 L484.2,199.6 L485.9,200.5 L487.6,201.5 L489.3,202.5 L491.0,203.6 L492.6,204.7 L494.3,205.8 L496.0,207.0 L497.7,208.1 L499.4,209.2 L501.0,210.3 L502.7,211.4 L504.4,212.5 L506.1,213.6 L507.8,214.7 L509.4,215.8 L511.1,216.9 L512.8,218.0 L514.5,219.1 L516.2,220.2 L517.8,221.4 L519.5,222.7 L521.2,224.1" stroke="rgb(179,179,179)"/>
<path d="M422.1,217.6 L423.8,216.3 L425.5,215.0 L427.1,213.8 L428.8,212.6 L430.5,211.4 L432.2,210.3 L433.9,209.2 L435.5,208.1 L437.2,207.0 L438.9,206.1 L440.6,205.1 L442.3,204.3 L443.9,203.6 L445.6,203.0 L447.3,202.4 L449.0,201.7 L450.7,201.1 L452.3,200.5 L454.0,199.8 L455.7,199.0 L457.4,198.3 L459.1,197.5 L460.7,196.8 L462.4,196.2 L464.1,195.7 L465.8,195.4 L467.5,195.1 L469.1,195.0 L470.8,195.0 L472.5,195.0 L474.2,195.0 L475.8,195.1 L477.5,195.4 L479.2,195.9 L480.9,196.6 L482.6,197.4 L484.2,198.3 L485.9,199.3 L487.6,200.3 L489.3,201.4 L491.0,202.5 L492.6,203.6 L494.3,204.8 L496.0,205.9 L497.7,207.1 L499.4,208.2 L501.0,209.3 L502.7,210.4 L504.4,211.6 L506.1,212.7 L507.8,213.9 L509.4,215.0 L511.1,216.1 L512.8,217.2 L514.5,218.4 L516.2,219.5 L517.8,220.7 L519.5,222.1 L521.2,223.5" stroke="rgb(178,178,178)"/>
<path d="M422.1,216.9 L423.8,215.6 L425.5,214.3 L427.1,213.1 L428.8,211.8 L430.5,210.6 L432.2,209.5 L433.9,208.3 L435.5,207.2 L437.2,206.1 L438.9,205.1 L440.6,204.2 L442.3,203.4 L443.9,202.6 L445.6,202.0 L447.3,201.3 L449.0,200.7 L450.7,200.1 L452.3,199.4 L454.0,198.7 L455.7,197.9 L457.4,197.2 L459.1,196.4 L460.7,195.7 L462.4,195.1 L464.1,194.6 L465.8,194.2 L467.5,193.9 L469.1,193.8 L470.8,193.8 L472.5,193.8 L474.2,193.8 L475.8,193.9 L477.5,194.2 L479.2,194.7 L480.9,195.4 L482.6,196.3 L484.2,197.2 L485.9,198.2 L487.6,199.2 L489.3,200.3 L491.0,201.5 L492.6,202.6 L494.3,203.8 L496.0,205.0 L497.7,206.2 L499.4,207.3 L501.0,208.5 L502.7,209.6 L504.4,210.8 L506.1,212.0 L507.8,213.1 L509.4,214.3 L511.1,215.4 L512.8,216.6 L514.5,217.7 L516.2,218.9 L517.8,220.2 L519.5,221.5 L521.2,223.0" stroke="rgb(176,176,176)"/>
<path d="M422.1,216.3 L423.8,215.0 L425.5,213.6 L427.1,212.4 L428.8,211.1 L430.5,209.9 L432.2,208.7 L433.9,207.5 L435.5,206.4 L437.2,205.3 L438.9,204.3 L440.6,203.3 L442.3,202.5 L443.9,201.7 L445.6,201.0 L447.3,200.4 L449.0,199.7 L450.7,199.1 L452.3,198.4 L454.0,197.7 L455.7,196.9 L457.4,196.1 L459.1,195.3 L460.7,194.6 L462.4,194.0 L464.1,193.5 L465.8,193.1 L467.5,192.8 L469.1,192.7 L470.8,192.7 L472.5,192.7 L474.2,192.7 L475.8,192.8 L477.5,193.1 L479.2,193.6 L480.9,194.3 L482.6,195.2 L484.2,196.2 L485.9,197.2 L487.6,198.2 L489.3,199.4 L491.0,200.5 L492.6,201.7 L494.3,202.9 L496.0,204.1 L497.7,205.3 L499.4,206.5 L501.0,207.7 L502.7,208.8 L504.4,210.0 L506.1,211.2 L507.8,212.4 L509.4,213.6 L511.1,214.8 L512.8,215.9 L514.5,217.1 L516.2,218.3 L517.8,219.6 L519.5,221.0 L521.2,222.5" stroke="rgb(175,175,175)"/>
<path d="M422.1,215.8 L423.8,214.4 L425.5,213.0 L427.1,211.7 L428.8,210.4 L430.5,209.2 L432.2,208.0 L433.9,206.8 L435.5,205.6 L437.2,204.5 L438.9,203.5 L440.6,202.5 L442.3,201.6 L443.9,200.9 L445.6,200.2 L447.3,199.5 L449.0,198.9 L450.7,198.2 L452.3,197.5 L454.0,196.8 L455.7,196.0 L457.4,195.2 L459.1,194.4 L460.7,193.6 L462.4,193.0 L464.1,192.5 L465.8,192.1 L467.5,191.8 L469.1,191.7 L470.8,191.6 L472.5,191.6 L474.2,191.7 L475.8,191.8 L477.5,192.1 L479.2,192.6 L480.9,193.4 L482.6,194.2 L484.2,195.2 L485.9,196.3 L487.6,197.3 L489.3,198.5 L491.0,199.6 L492.6,200.9 L494.3,202.1 L496.0,203.3 L497.7,204.5 L499.4,205.7 L501.0,206.9 L502.7,208.1 L504.4,209.4 L506.1,210.6 L507.8,211.8 L509.4,213.0 L511.1,214.2 L512.8,215.4 L514.5,216.6 L516.2,217.8 L517.8,219.1 L519.5,220.5 L521.2,222.0" stroke="rgb(174,174,174)"/>
<path d="M422.1,215.2 L423.8,213.8 L425.5,212.5 L427.1,211.1 L428.8,209.8 L430.5,208.5 L432.2,207.3 L433.9,206.1 L435.5,204.9 L437.2,203.8 L438.9,202.7 L440.6,201.7 L442.3,200.9 L443.9,200.1 L445.6,199.4 L447.3,198.7 L449.0,198.0 L450.7,197.4 L452.3,196.7 L454.0,195.9 L455.7,195.1 L457.4,194.3 L459.1,193.5 L460.7,192.7 L462.4,192.1 L464.1,191.5 L465.8,191.1 L467.5,190.9 L469.1,190.7 L470.8,190.7 L472.5,190.7 L474.2,190.7 L475.8,190.9 L477.5,191.1 L479.2,191.7 L480.9,192.4 L482.6,193.3 L484.2,194.3 L485.9,195.4 L487.6,196.5 L489.3,197.6 L491.0,198.8 L492.6,200.1 L494.3,201.3 L496.0,202.6 L497.7,203.8 L499.4,205.0 L501.0,206.3 L502.7,207.5 L504.4,208.7 L506.1,210.0 L507.8,211.2 L509.4,212.4 L511.1,213.6 L512.8,214.8 L514.5,216.0 L516.2,217.3 L517.8,218.6 L519.5,220.1 L521.2,221.6" stroke="rgb(172,172,172)"/>
<path d="M422.1,214.7 L423.8,213.3 L425.5,211.9 L427.1,210.6 L428.8,209.2 L430.5,207.9 L432.2,206.7 L433.9,205.5 L435.5,204.3 L437.2,203.1 L438.9,202.0 L440.6,201.0 L442.3,200.1 L443.9,199.3 L445.6,198.6 L447.3,197.9 L449.0,197.3 L450.7,196.6 L452.3,195.9 L454.0,195.1 L455.7,194.3 L457.4,193.5 L459.1,192.6 L460.7,191.9 L462.4,191.2 L464.1,190.7 L465.8,190.3 L467.5,190.0 L469.1,189.8 L470.8,189.8 L472.5,189.8 L474.2,189.8 L475.8,190.0 L477.5,190.3 L479.2,190.8 L480.9,191.6 L482.6,192.5 L484.2,193.5 L485.9,194.6 L487.6,195.7 L489.3,196.9 L491.0,198.1 L492.6,199.3 L494.3,200.6 L496.0,201.9 L497.7,203.1 L499.4,204.4 L501.0,205.6 L502.7,206.9 L504.4,208.1 L506.1,209.4 L507.8,210.6 L509.4,211.9 L511.1,213.1 L512.8,214.3 L514.5,215.6 L516.2,216.8 L517.8,218.2 L519.5,219.6 L521.2,221.2" stroke="rgb(170,170,170)"/>
<path d="M422.1,214.3 L423.8,212.8 L425.5,211.4 L427.1,210.0 L428.8,208.7 L430.5,207.4 L432.2,206.1 L433.9,204.9 L435.5,203.6 L437.2,202.5 L438.9,201.4 L440.6,200.4 L442.3,199.5 L443.9,198.7 L445.6,197.9 L447.3,197.2 L449.0,196.5 L450.7,195.8 L452.3,195.1 L454.0,194.4 L455.7,193.5 L457.4,192.7 L459.1,191.8 L460.7,191.1 L462.4,190.4 L464.1,189.8 L465.8,189.4 L467.5,189.2 L469.1,189.0 L470.8,189.0 L472.5,189.0 L474.2,189.0 L475.8,189.1 L477.5,189.4 L479.2,190.0 L480.9,190.8 L482.6,191.7 L484.2,192.7 L485.9,193.8 L487.6,194.9 L489.3,196.1 L491.0,197.4 L492.6,198.6 L494.3,199.9 L496.0,201.2 L497.7,202.5 L499.4,203.8 L501.0,205.0 L502.7,206.3 L504.4,207.6 L506.1,208.8 L507.8,210.1 L509.4,211.4 L511.1,212.6 L512.8,213.9 L514.5,215.1 L516.2,216.4 L517.8,217.8 L519.5,219.3 L521.2,220.9" stroke="rgb(169,169,169)"/>
<path d="M422.1,213.8 L423.8,212.4 L425.5,210.9 L427.1,209.5 L428.8,208.2 L430.5,206.9 L432.2,205.6 L433.9,204.3 L435.5,203.1 L437.2,201.9 L438.9,200.8 L440.6,199.7 L442.3,198.8 L443.9,198.0 L445.6,197.3 L447.3,196.6 L449.0,195.9 L450.7,195.2 L452.3,194.4 L454.0,193.6 L455.7,192.8 L457.4,191.9 L459.1,191.1 L460.7,190.3 L462.4,189.6 L464.1,189.1 L465.8,188.6 L467.5,188.4 L469.1,188.2 L470.8,188.2 L472.5,188.2 L474.2,188.2 L475.8,188.4 L477.5,188.7 L479.2,189.2 L480.9,190.0 L482.6,191.0 L484.2,192.0 L485.9,193.1 L487.6,194.2 L489.3,195.4 L491.0,196.7 L492.6,198.0 L494.3,199.3 L496.0,200.6 L497.7,201.9 L499.4,203.2 L501.0,204.4 L502.7,205.7 L504.4,207.0 L506.1,208.3 L507.8,209.6 L509.4,210.9 L511.1,212.2 L512.8,213.4 L514.5,214.7 L516.2,216.0 L517.8,217.4 L519.5,218.9 L521.2,220.5" stroke="rgb(167,167,167)"/>
<path d="M422.1,213.4 L423.8,211.9 L425.5,210.5 L427.1,209.1 L428.8,207.7 L430.5,206.3 L432.2,205.0 L433.9,203.8 L435.5,202.5 L437.2,201.3 L438.9,200.2 L440.6,199.1 L442.3,198.2 L443.9,197.4 L445.6,196.6 L447.3,195.9 L449.0,195.2 L450.7,194.5 L452.3,193.8 L454.0,193.0 L455.7,192.1 L457.4,191.2 L459.1,190.4 L460.7,189.6 L462.4,188.9 L464.1,188.3 L465.8,187.9 L467.5,187.6 L469.1,187.5 L470.8,187.4 L472.5,187.4 L474.2,187.5 L475.8,187.6 L477.5,187.9 L479.2,188.5 L480.9,189.3 L482.6,190.2 L484.2,191.3 L485.9,192.4 L487.6,193.6 L489.3,194.8 L491.0,196.1 L492.6,197.4 L494.3,198.7 L496.0,200.0 L497.7,201.3 L499.4,202.6 L501.0,203.9 L502.7,205.2 L504.4,206.5 L506.1,207.8 L507.8,209.2 L509.4,210.5 L511.1,211.7 L512.8,213.0 L514.5,214.3 L516.2,215.6 L517.8,217.0 L519.5,218.5 L521.2,220.2" stroke="rgb(165,165,165)"/>
<path d="M422.1,213.0 L423.8,211.5 L425.5,210.0 L427.1,208.6 L428.8,207.2 L430.5,205.9 L432.2,204.5 L433.9,203.2 L435.5,202.0 L437.2,200.8 L438.9,199.6 L440.6,198.6 L442.3,197.6 L443.9,196.8 L445.6,196.0 L447.3,195.3 L449.0,194.6 L450.7,193.9 L452.3,193.1 L454.0,192.3 L455.7,191.5 L457.4,190.6 L459.1,189.7 L460.7,188.9 L462.4,188.2 L464.1,187.6 L465.8,187.2 L467.5,186.9 L469.1,186.8 L470.8,186.7 L472.5,186.7 L474.2,186.8 L475.8,186.9 L477.5,187.2 L479.2,187.8 L480.9,188.6 L482.6,189.6 L484.2,190.6 L485.9,191.8 L487.6,192.9 L489.3,194.2 L491.0,195.5 L492.6,196.8 L494.3,198.1 L496.0,199.5 L497.7,200.8 L499.4,202.1 L501.0,203.4 L502.7,204.7 L504.4,206.0 L506.1,207.4 L507.8,208.7 L509.4,210.0 L511.1,211.3 L512.8,212.6 L514.5,213.9 L516.2,215.3 L517.8,216.7 L519.5,218.2 L521.2,219.9" stroke="rgb(164,164,164)"/>
<path d="M422.1,212.7 L423.8,211.1 L425.5,209.6 L427.1,208.2 L428.8,206.8 L430.5,205.4 L432.2,204.1 L433.9,202.8 L435.5,201.5 L437.2,200.2 L438.9,199.1 L440.6,198.0 L442.3,197.1 L443.9,196.2 L445.6,195.5 L447.3,194.7 L449.0,194.0 L450.7,193.3 L452.3,192.5 L454.0,191.7 L455.7,190.8 L457.4,190.0 L459.1,189.1 L460.7,188.3 L462.4,187.6 L464.1,187.0 L465.8,186.5 L467.5,186.2 L469.1,186.1 L470.8,186.0 L472.5,186.0 L474.2,186.1 L475.8,186.2 L477.5,186.5 L479.2,187.1 L480.9,187.9 L482.6,188.9 L484.2,190.0 L485.9,191.1 L487.6,192.3 L489.3,193.6 L491.0,194.9 L492.6,196.2 L494.3,197.6 L496.0,198.9 L497.7,200.3 L499.4,201.6 L501.0,202.9 L502.7,204.2 L504.4,205.6 L506.1,206.9 L507.8,208.3 L509.4,209.6 L511.1,210.9 L512.8,212.2 L514.5,213.5 L516.2,214.9 L517.8,216.3 L519.5,217.9 L521.2,219.6" stroke="rgb(162,162,162)"/>
<path d="M422.1,212.3 L423.8,210.7 L425.5,209.2 L427.1,207.8 L428.8,206.4 L430.5,205.0 L432.2,203.6 L433.9,202.3 L435.5,201.0 L437.2,199.8 L438.9,198.6 L440.6,197.5 L442.3,196.5 L443.9,195.7 L445.6,194.9 L447.3,194.2 L449.0,193.5 L450.7,192.7 L452.3,191.9 L454.0,191.1 L455.7,190.2 L457.4,189.3 L459.1,188.5 L460.7,187.6 L462.4,186.9 L464.1,186.3 L465.8,185.9 L467.5,185.6 L469.1,185.5 L470.8,185.4 L472.5,185.4 L474.2,185.4 L475.8,185.6 L477.5,185.9 L479.2,186.5 L480.9,187.3 L482.6,188.3 L484.2,189.4 L485.9,190.6 L487.6,191.8 L489.3,193.0 L491.0,194.3 L492.6,195.7 L494.3,197.1 L496.0,198.4 L497.7,199.8 L499.4,201.1 L501.0,202.5 L502.7,203.8 L504.4,205.1 L506.1,206.5 L507.8,207.9 L509.4,209.2 L511.1,210.6 L512.8,211.9 L514.5,213.2 L516.2,214.6 L517.8,216.0 L519.5,217.6 L521.2,219.3" stroke="rgb(160,160,160)"/>
<path d="M422.1,211.9 L423.8,210.4 L425.5,208.9 L427.1,207.4 L428.8,206.0 L430.5,204.5 L432.2,203.2 L433.9,201.8 L435.5,200.5 L437.2,199.3 L438.9,198.1 L440.6,197.0 L442.3,196.0 L443.9,195.2 L445.6,194.4 L447.3,193.7 L449.0,192.9 L450.7,192.2 L452.3,191.4 L454.0,190.6 L455.7,189.7 L457.4,188.8 L459.1,187.9 L460.7,187.0 L462.4,186.3 L464.1,185.7 L465.8,185.3 L467.5,185.0 L469.1,184.8 L470.8,184.8 L472.5,184.8 L474.2,184.8 L475.8,185.0 L477.5,185.3 L479.2,185.9 L480.9,186.7 L482.6,187.7 L484.2,188.8 L485.9,190.0 L487.6,191.2 L489.3,192.5 L491.0,193.8 L492.6,195.2 L494.3,196.6 L496.0,197.9 L497.7,199.3 L499.4,200.7 L501.0,202.0 L502.7,203.4 L504.4,204.7 L506.1,206.1 L507.8,207.5 L509.4,208.9 L511.1,210.2 L512.8,211.5 L514.5,212.9 L516.2,214.2 L517.8,215.7 L519.5,217.3 L521.2,219.0" stroke="rgb(158,158,158)"/>
<path d="M422.1,211.6 L423.8,210.0 L425.5,208.5 L427.1,207.0 L428.8,205.6 L430.5,204.1 L432.2,202.8 L433.9,201.4 L435.5,200.1 L437.2,198.8 L438.9,197.6 L440.6,196.5 L442.3,195.5 L443.9,194.7 L445.6,193.9 L447.3,193.1 L449.0,192.4 L450.7,191.6 L452.3,190.9 L454.0,190.0 L455.7,189.1 L457.4,188.2 L459.1,187.3 L460.7,186.5 L462.4,185.7 L464.1,185.1 L465.8,184.7 L467.5,184.4 L469.1,184.2 L470.8,184.2 L472.5,184.2 L474.2,184.2 L475.8,184.4 L477.5,184.7 L479.2,185.3 L480.9,186.1 L482.6,187.2 L484.2,188.3 L485.9,189.4 L487.6,190.7 L489.3,192.0 L491.0,193.3 L492.6,194.7 L494.3,196.1 L496.0,197.5 L497.7,198.9 L499.4,200.2 L501.0,201.6 L502.7,202.9 L504.4,204.3 L506.1,205.7 L507.8,207.1 L509.4,208.5 L511.1,209.8 L512.8,211.2 L514.5,212.5 L516.2,213.9 L517.8,215.4 L519.5,217.0 L521.2,218.8" stroke="rgb(156,156,156)"/>
<path d="M422.1,211.3 L423.8,209.7 L425.5,208.2 L427.1,206.7 L428.8,205.2 L430.5,203.8 L432.2,202.4 L433.9,201.0 L435.5,199.7 L437.2,198.4 L438.9,197.2 L440.6,196.1 L442.3,195.1 L443.9,194.2 L445.6,193.4 L447.3,192.7 L449.0,191.9 L450.7,191.1 L452.3,190.3 L454.0,189.5 L455.7,188.6 L457.4,187.7 L459.1,186.8 L460.7,185.9 L462.4,185.2 L464.1,184.6 L465.8,184.1 L467.5,183.8 L469.1,183.7 L470.8,183.6 L472.5,183.6 L474.2,183.7 L475.8,183.8 L477.5,184.1 L479.2,184.7 L480.9,185.6 L482.6,186.6 L484.2,187.7 L485.9,188.9 L487.6,190.2 L489.3,191.4 L491.0,192.8 L492.6,194.2 L494.3,195.6 L496.0,197.0 L497.7,198.4 L499.4,199.8 L501.0,201.2 L502.7,202.5 L504.4,203.9 L506.1,205.4 L507.8,206.8 L509.4,208.1 L511.1,209.5 L512.8,210.9 L514.5,212.2 L516.2,213.6 L517.8,215.1 L519.5,216.7 L521.2,218.5" stroke="rgb(154,154,154)"/>
<path d="M422.1,211.0 L423.8,209.4 L425.5,207.8 L427.1,206.3 L428.8,204.8 L430.5,203.4 L432.2,202.0 L433.9,200.6 L435.5,199.3 L437.2,198.0 L438.9,196.7 L440.6,195.6 L442.3,194.6 L443.9,193.7 L445.6,192.9 L447.3,192.2 L449.0,191.4 L450.7,190.6 L452.3,189.8 L454.0,189.0 L455.7,188.1 L457.4,187.2 L459.1,186.2 L460.7,185.4 L462.4,184.6 L464.1,184.0 L465.8,183.6 L467.5,183.3 L469.1,183.1 L470.8,183.1 L472.5,183.1 L474.2,183.1 L475.8,183.2 L477.5,183.6 L479.2,184.2 L480.9,185.0 L482.6,186.1 L484.2,187.2 L485.9,188.4 L487.6,189.7 L489.3,191.0 L491.0,192.3 L492.6,193.7 L494.3,195.2 L496.0,196.6 L497.7,198.0 L499.4,199.4 L501.0,200.8 L502.7,202.2 L504.4,203.6 L506.1,205.0 L507.8,206.4 L509.4,207.8 L511.1,209.2 L512.8,210.5 L514.5,211.9 L516.2,213.4 L517.8,214.9 L519.5,216.5 L521.2,218.3" stroke="rgb(151,151,151)"/>
<path d="M422.1,210.7 L423.8,209.1 L425.5,207.5 L427.1,206.0 L428.8,204.5 L430.5,203.0 L432.2,201.6 L433.9,200.2 L435.5,198.9 L437.2,197.6 L438.9,196.3 L440.6,195.2 L442.3,194.2 L443.9,193.3 L445.6,192.5 L447.3,191.7 L449.0,191.0 L450.7,190.2 L452.3,189.4 L454.0,188.5 L455.7,187.6 L457.4,186.7 L459.1,185.7 L460.7,184.9 L462.4,184.1 L464.1,183.5 L465.8,183.0 L467.5,182.7 L469.1,182.6 L470.8,182.5 L472.5,182.5 L474.2,182.6 L475.8,182.7 L477.5,183.0 L479.2,183.7 L480.9,184.5 L482.6,185.6 L484.2,186.7 L485.9,187.9 L487.6,189.2 L489.3,190.5 L491.0,191.9 L492.6,193.3 L494.3,194.7 L496.0,196.2 L497.7,197.6 L499.4,199.0 L501.0,200.4 L502.7,201.8 L504.4,203.2 L506.1,204.6 L507.8,206.1 L509.4,207.5 L511.1,208.9 L512.8,210.2 L514.5,211.6 L516.2,213.1 L517.8,214.6 L519.5,216.2 L521.2,218.0" stroke="rgb(149,149,149)"/>
</g>
<path d="M422.1,211.2 L423.8,209.5 L425.5,207.9 L427.1,206.3 L428.8,204.8 L430.5,203.2 L432.2,201.8 L433.9,200.3 L435.5,198.9 L437.2,197.6 L438.9,196.3 L440.6,195.1 L442.3,194.1 L443.9,193.2 L445.6,192.3 L447.3,191.5 L449.0,190.7 L450.7,189.9 L452.3,189.1 L454.0,188.2 L455.7,187.3 L457.4,186.3 L459.1,185.3 L460.7,184.4 L462.4,183.7 L464.1,183.0 L465.8,182.5 L467.5,182.2 L469.1,182.1 L470.8,182.0 L472.5,182.0 L474.2,182.0 L475.8,182.2 L477.5,182.5 L479.2,183.2 L480.9,184.1 L482.6,185.2 L484.2,186.3 L485.9,187.6 L487.6,188.9 L489.3,190.3 L491.0,191.7 L492.6,193.2 L494.3,194.7 L496.0,196.2 L497.7,197.6 L499.4,199.1 L501.0,200.5 L502.7,202.0 L504.4,203.4 L506.1,204.9 L507.8,206.4 L509.4,207.9 L511.1,209.3 L512.8,210.7 L514.5,212.2 L516.2,213.7 L517.8,215.3 L519.5,217.0 L521.2,218.8" stroke="#7e3414" stroke-width="2.3" fill="none" stroke-linecap="butt"/>
<rect x="406.6" y="159.5" width="123.80" height="88.25" stroke="#2b2b2b" stroke-width="0.8" fill="none"/>
<path d="M427.23,247.75 V246.55 M427.23,159.5 V160.7" stroke="#2b2b2b" stroke-width="0.75"/>
<text x="427.23" y="263.30" font-size="11.5" fill="#1a1a1a" text-anchor="middle" >-100</text>
<path d="M468.50,247.75 V246.55 M468.50,159.5 V160.7" stroke="#2b2b2b" stroke-width="0.75"/>
<text x="468.50" y="263.30" font-size="11.5" fill="#1a1a1a" text-anchor="middle" >0</text>
<path d="M509.77,247.75 V246.55 M509.77,159.5 V160.7" stroke="#2b2b2b" stroke-width="0.75"/>
<text x="509.77" y="263.30" font-size="11.5" fill="#1a1a1a" text-anchor="middle" >100</text>
<path d="M406.6,247.75 H407.8 M530.4,247.75 H529.1999999999999" stroke="#2b2b2b" stroke-width="0.75"/>
<text x="401.80" y="251.45" font-size="11.5" fill="#1a1a1a" text-anchor="end" >0</text>
<path d="M406.6,212.45 H407.8 M530.4,212.45 H529.1999999999999" stroke="#2b2b2b" stroke-width="0.75"/>
<text x="401.80" y="216.15" font-size="11.5" fill="#1a1a1a" text-anchor="end" >20</text>
<path d="M406.6,177.15 H407.8 M530.4,177.15 H529.1999999999999" stroke="#2b2b2b" stroke-width="0.75"/>
<text x="401.80" y="180.85" font-size="11.5" fill="#1a1a1a" text-anchor="end" >40</text>
<text x="428.51" y="276.70" font-size="11.3" fill="#1a1a1a" textLength="49.87" lengthAdjust="spacingAndGlyphs">x-position</text>
<text x="482.45" y="276.70" font-size="11.3" fill="#1a1a1a" textLength="25.69" lengthAdjust="spacingAndGlyphs">[mm]</text>
<text transform="translate(383.55,254.95) rotate(-90)" x="0" y="0" font-size="12" fill="#1a1a1a" textLength="72.68" lengthAdjust="spacingAndGlyphs" >z-displacement</text>
<text transform="translate(383.55,176.72) rotate(-90)" x="0" y="0" font-size="12" fill="#1a1a1a" textLength="24.86" lengthAdjust="spacingAndGlyphs" >[mm]</text>
</svg>
</body></html>
